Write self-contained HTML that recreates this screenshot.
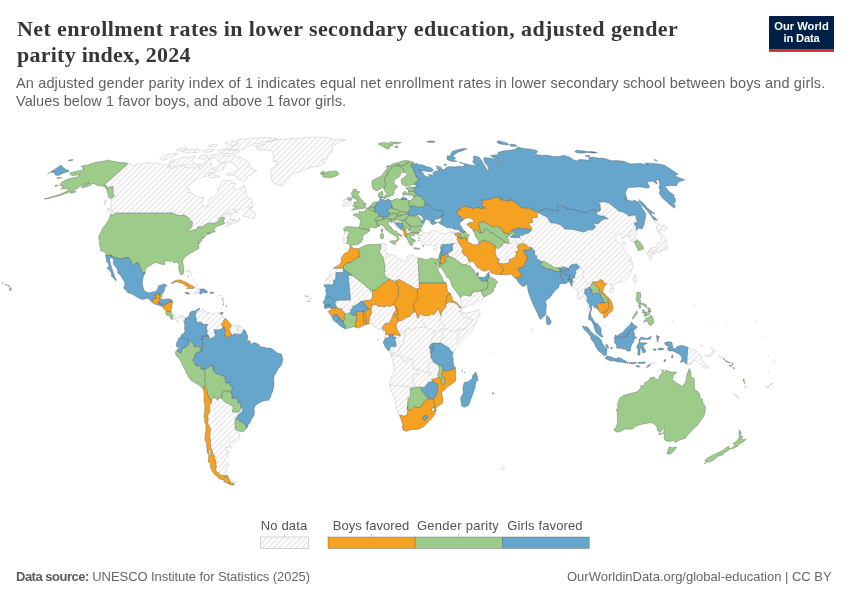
<!DOCTYPE html>
<html><head><meta charset="utf-8">
<style>
html,body{margin:0;padding:0;background:#fff;}
body{width:850px;height:600px;position:relative;overflow:hidden;font-family:"Liberation Sans",sans-serif;}
.t{position:absolute;white-space:nowrap;line-height:1;will-change:transform;}
#title1,#title2{font-family:"Liberation Serif",serif;font-weight:bold;font-size:22px;color:#363636;left:16.5px;}
#title1{top:17.8px;letter-spacing:0.41px;}
#title2{top:43.8px;letter-spacing:0.25px;}
#sub1,#sub2{font-size:14.5px;color:#616161;left:16px;}
#sub1{top:75.8px;letter-spacing:0.138px;}
#sub2{top:94px;letter-spacing:0.06px;}
.foot{font-size:13px;color:#666;top:569.9px;}
.foot b{color:#5b5b5b;letter-spacing:-0.5px;}
#src{left:16.3px;letter-spacing:-0.07px;}
#url{right:18.5px;letter-spacing:0px;}
.leg{font-size:13px;color:#525252;top:519.2px;transform:translateX(-50%);}
#lnd{left:284.4px;letter-spacing:0.15px;}
#lbf{left:371.4px;letter-spacing:0.04px;}
#lgp{left:458px;letter-spacing:0.26px;}
#lgf{left:545.2px;letter-spacing:0.13px;}
#logo{position:absolute;left:769px;top:16px;width:65px;height:36px;will-change:transform;}
#logo div{position:absolute;left:0;width:65px;text-align:center;color:#fff;font-weight:bold;font-size:11.2px;line-height:1;white-space:nowrap;}
#lg1{top:5.3px;}
#lg2{top:17.1px;letter-spacing:-0.2px;}
svg{position:absolute;left:0;top:0;}
</style></head><body>
<div class="t" id="title1">Net enrollment rates in lower secondary education, adjusted gender</div>
<div class="t" id="title2">parity index, 2024</div>
<div class="t" id="sub1">An adjusted gender parity index of 1 indicates equal net enrollment rates in lower secondary school between boys and girls.</div>
<div class="t" id="sub2">Values below 1 favor boys, and above 1 favor girls.</div>
<svg width="850" height="600" viewBox="0 0 850 600">
<defs><pattern id="h" patternUnits="userSpaceOnUse" width="4" height="4" patternTransform="rotate(-45 2 2) translate(0 2)"><path d="M-1,2 l6,0" stroke="#ccc" stroke-width="0.7"/></pattern></defs>
<g fill="url(#h)" stroke="#c4c4c4" stroke-width="0.5" stroke-linejoin="round">
<path d="M128.2,163.7 131.1,164.0 133.7,165.3 137.5,164.2 141.1,164.0 145.5,163.1 149.0,162.9 152.3,162.3 153.4,164.2 156.5,162.9 160.2,163.4 162.6,164.2 166.7,165.1 169.8,165.3 170.2,166.7 166.7,167.6 170.6,168.0 176.1,167.6 178.4,168.7 180.9,166.0 184.7,165.6 185.6,167.3 189.5,167.8 192.9,167.8 195.4,167.8 197.8,166.0 199.5,166.9 199.6,168.9 205.2,165.1 203.3,163.4 209.9,158.8 210.6,160.8 210.0,163.4 212.0,164.0 211.1,166.2 211.9,168.5 215.8,166.7 219.1,164.5 220.8,163.4 225.6,163.6 226.8,164.7 225.4,166.2 222.8,167.6 223.9,168.9 218.5,171.2 215.9,171.2 215.0,168.9 213.1,169.1 213.2,171.4 210.0,173.4 207.4,173.4 209.6,175.3 207.2,176.2 203.5,176.4 201.1,178.1 197.0,179.2 192.2,182.3 188.7,185.4 186.4,188.7 189.4,189.0 188.0,192.6 191.4,192.6 194.4,194.6 196.5,195.8 199.5,197.3 204.2,197.5 201.9,203.0 203.0,205.5 206.4,206.7 207.9,203.5 209.7,200.0 209.0,198.7 214.3,196.5 217.7,193.6 218.6,190.2 216.6,188.7 220.1,185.8 221.2,182.3 222.5,180.2 229.5,180.4 232.2,182.0 232.4,183.5 236.0,183.5 233.3,187.0 233.4,188.7 235.8,189.5 237.4,189.9 241.8,186.6 244.4,185.1 245.5,188.7 246.0,191.9 245.7,194.8 247.6,197.3 250.9,198.5 251.9,201.2 253.3,204.0 252.6,206.5 249.9,207.0 246.2,207.7 242.9,209.8 239.0,209.7 235.0,209.7 229.9,210.0 227.1,212.3 223.1,214.8 218.9,218.1 217.3,218.6 220.4,216.8 224.3,214.3 228.9,212.8 232.9,212.8 232.8,214.3 229.9,215.6 230.7,217.6 230.3,219.9 233.2,221.2 236.2,221.4 237.0,222.4 231.2,224.2 226.2,227.1 225.0,226.3 226.0,224.5 229.7,222.4 226.6,222.7 224.2,223.0 223.7,222.4 223.3,221.4 224.5,217.9 223.9,217.2 222.3,217.6 221.9,217.0 219.6,218.9 218.8,219.9 218.3,220.9 216.8,222.2 215.5,222.6 215.0,223.2 208.4,223.2 207.0,223.7 204.3,225.3 202.7,226.8 198.8,226.8 197.6,227.2 197.7,227.7 197.4,228.9 192.0,230.4 189.0,231.7 188.0,230.9 188.8,229.9 190.5,228.4 191.7,226.8 192.6,222.4 191.1,221.2 190.6,220.4 189.8,219.4 189.4,218.4 183.9,214.8 181.1,215.6 177.3,215.3 174.9,214.0 171.8,213.8 171.6,212.0 171.1,213.0 114.4,213.0 115.0,213.0 113.0,210.5 110.1,208.5 111.3,204.7 111.3,201.7 111.0,199.7 110.8,198.6 113.1,197.3 114.6,195.3 112.7,193.6 112.9,192.1 113.4,189.7 112.7,187.5 112.8,186.3 110.2,187.0 107.1,188.4 106.7,185.6 103.9,185.1ZM113.4,214.5 110.8,214.2 109.4,212.3 107.2,210.2 107.3,208.5 109.7,209.0 112.0,210.5 113.3,212.5ZM104.6,205.0 104.1,203.0 104.8,200.2 107.1,200.5 105.3,202.5ZM242.3,216.3 244.5,214.3 248.1,209.2 251.3,206.7 252.9,206.7 249.9,210.0 251.6,210.7 254.9,212.0 255.7,214.3 255.0,216.8 255.2,218.1 253.3,219.0 251.5,218.1 248.8,218.4 247.9,216.6ZM236.4,221.7 239.7,218.1 240.0,220.7 237.6,221.7ZM231.3,218.9 233.7,219.6 235.8,219.5 234.4,220.7 231.9,220.1ZM233.7,211.0 237.4,211.5 238.4,212.8 235.1,212.3ZM257.0,170.3 251.6,174.1 247.5,176.9 246.9,179.2 242.7,181.1 239.8,179.7 236.6,177.4 235.0,175.5 232.5,175.3 228.7,175.7 225.9,174.6 227.6,173.2 233.0,173.0 235.8,171.2 238.7,168.5 236.1,166.7 234.2,164.5 231.9,162.9 232.0,161.6 223.8,162.7 217.9,161.8 216.7,160.3 218.3,157.6 222.1,155.1 227.1,154.8 227.4,156.3 233.2,155.1 234.9,155.9 238.0,156.9 241.1,157.1 241.9,159.3 246.2,160.1 248.2,162.1 249.9,164.7 247.2,166.4 250.9,167.3 254.0,169.4ZM211.0,173.2 214.8,172.7 214.6,175.7 219.0,175.7 220.2,177.1 215.3,177.4 210.4,178.1 208.8,176.4ZM171.4,159.9 175.5,159.9 182.6,157.1 187.1,156.7 187.9,158.2 192.5,156.1 195.3,156.5 191.7,160.8 194.8,162.7 193.5,165.1 189.7,165.6 185.7,164.5 180.7,165.3 172.3,166.2 168.6,164.9 169.2,162.7 174.8,162.1 169.4,161.0ZM159.7,158.8 162.0,160.3 166.0,159.7 172.1,156.5 178.3,154.0 173.6,153.4 166.0,155.1ZM197.9,158.6 200.7,159.0 204.6,159.3 208.0,156.5 206.7,154.6 201.9,155.5ZM208.4,158.6 211.7,158.6 216.8,156.5 219.6,154.4 216.0,154.0 211.7,155.3ZM196.0,165.1 199.4,166.0 202.9,164.9 201.7,163.4 199.0,163.6ZM182.0,151.8 185.1,153.0 191.6,152.8 198.2,152.4 200.7,150.4 198.1,148.8 190.7,149.8 185.7,149.6ZM202.1,151.8 207.6,152.4 212.5,151.4 214.3,149.2 209.9,149.0 205.0,150.0ZM219.4,153.0 225.2,153.4 231.5,153.4 238.1,153.0 239.7,151.2 234.3,150.4 227.5,149.6 223.1,149.4 218.2,150.4ZM224.9,149.2 229.2,149.4 235.1,149.6 240.8,150.0 245.3,148.4 247.2,146.5 252.0,145.3 254.4,143.7 260.7,143.1 269.5,141.4 276.7,139.6 277.7,138.5 270.0,137.9 260.7,137.7 250.4,138.3 242.6,139.1 235.8,140.0 237.7,141.9 238.5,143.7 234.5,145.9 229.8,147.4ZM224.5,142.7 227.7,143.7 231.7,145.7 236.6,144.0 236.6,142.2 232.8,140.7 228.5,141.4ZM176.0,150.0 180.0,151.0 187.0,149.2 185.7,147.4 179.8,148.4ZM207.9,146.5 214.1,146.9 217.7,145.1 213.6,144.4 208.7,145.3Z"/>
<path d="M254.9,146.1 258.7,146.9 255.9,148.4 258.2,150.2 266.7,150.0 272.6,151.4 273.1,154.4 273.9,158.6 273.3,161.4 278.8,161.8 275.9,164.5 276.8,166.2 271.6,168.5 270.1,171.8 271.2,175.3 271.6,178.8 272.9,182.3 275.1,183.9 279.9,185.8 283.2,185.8 285.3,182.3 288.6,178.8 291.5,175.3 296.7,172.7 299.5,172.1 306.4,168.9 313.7,166.9 319.0,166.0 325.5,162.9 321.2,160.3 327.1,159.0 327.7,156.5 330.8,153.4 333.2,149.4 331.7,146.5 336.8,143.7 340.9,141.4 346.1,140.0 335.1,139.4 326.2,137.4 318.2,137.0 308.5,137.4 298.5,138.2 288.3,138.9 279.6,139.4 273.0,140.5 267.3,142.2 265.6,144.0Z"/>
<path d="M172.2,319.5 172.4,316.9 173.2,315.6 175.6,317.5 177.2,317.3 179.3,316.1 181.4,315.6 183.7,316.2 185.1,317.9 185.3,319.9 183.6,321.7 182.6,319.6 183.3,318.6 181.3,317.1 180.2,317.1 178.9,318.6 178.0,319.1 178.8,321.1 176.7,321.7 176.3,320.1 175.0,319.4Z"/>
<path d="M193.7,292.6 197.1,291.9 198.5,292.1 197.6,290.6 196.4,289.2 197.4,288.5 200.2,289.1 200.0,291.7 199.7,293.4 198.1,293.0 195.1,293.4Z"/>
<path d="M187.4,275.0 188.5,275.0 188.6,277.3 187.2,276.5ZM186.3,270.8 188.8,270.7 188.7,271.2 186.2,271.3ZM189.7,270.3 190.7,271.3 190.0,272.9 189.4,271.8ZM196.4,285.4 197.8,284.9 197.7,285.8ZM190.7,273.9 192.1,275.0 191.7,276.0 191.2,275.2ZM193.4,278.9 194.2,280.2 193.9,280.5 193.1,279.4Z"/>
<path d="M222.0,297.8 223.4,297.4 223.3,298.7 222.1,298.9ZM223.1,301.7 224.0,302.0 223.8,302.9 223.2,302.8ZM221.3,308.5 221.7,308.5 221.7,309.2 221.2,309.2ZM222.6,305.6 223.0,305.6 223.0,306.3 222.5,306.3ZM221.8,295.6 222.4,295.6 222.3,296.1 221.8,296.1ZM219.8,295.1 220.5,295.1 220.4,295.9 219.7,295.9Z"/>
<path d="M199.4,309.7 197.9,311.3 198.8,312.0 201.9,310.7 202.5,308.7 203.3,310.5 206.0,311.3 206.3,312.8 210.9,312.8 213.6,314.1 215.3,313.4 218.3,312.6 220.8,312.6 218.7,313.4 219.3,314.4 221.4,314.9 223.2,316.2 223.3,318.0 224.9,318.2 225.4,318.8 223.2,320.9 224.1,322.0 222.1,323.0 221.5,325.0 223.0,326.9 222.3,328.8 218.1,330.1 215.4,329.8 214.0,329.8 214.9,331.1 214.4,332.4 215.3,334.2 216.6,334.8 215.1,335.4 215.0,336.3 212.0,338.5 211.8,338.0 209.9,338.5 208.6,337.3 207.9,334.5 206.5,333.2 207.7,331.6 206.6,329.5 206.7,326.7 207.6,324.3 203.1,324.6 201.5,322.2 197.4,322.2 196.2,321.2 196.4,318.6 195.6,316.7 195.2,314.7 196.6,311.5 197.8,310.2Z"/>
<path d="M231.3,325.0 234.1,325.1 236.2,324.8 238.6,325.5 237.4,327.4 238.4,331.1 237.0,334.4 235.8,333.8 233.8,334.0 233.7,335.7 232.6,335.4 231.0,333.2 230.1,331.8 229.1,330.1 229.4,328.5 230.9,326.7Z"/>
<path d="M238.6,325.5 241.0,326.4 243.0,328.5 243.8,329.7 241.5,334.0 238.8,334.5 237.0,334.4 238.4,331.1 237.4,327.4Z"/>
<path d="M209.9,400.2 211.4,399.9 213.1,397.4 215.7,398.2 217.8,400.2 218.5,397.9 221.1,397.9 221.5,398.6 225.6,402.6 227.9,403.2 230.8,405.2 233.7,407.3 232.1,411.8 234.3,411.9 237.1,412.4 238.6,412.0 240.3,410.1 240.5,407.3 242.7,409.2 242.7,411.4 240.3,413.1 238.6,414.4 235.3,419.3 235.0,422.7 235.0,425.3 235.3,429.0 235.5,430.0 238.7,432.9 238.9,435.0 240.3,435.8 239.3,439.2 236.6,441.5 232.5,442.3 229.9,442.0 230.4,444.9 231.0,447.2 228.0,447.9 225.1,447.2 226.3,450.6 229.5,451.6 227.9,452.5 227.3,453.9 227.7,457.3 225.5,458.3 224.1,460.3 226.4,462.6 228.7,463.7 228.9,465.4 226.9,468.7 226.3,471.0 225.7,473.0 228.2,476.3 224.7,475.5 220.8,475.5 218.9,473.0 216.6,471.8 215.2,469.3 216.6,466.7 215.7,464.2 216.2,462.1 214.4,457.8 215.1,456.8 213.1,453.9 211.8,450.6 210.6,446.2 210.3,442.3 210.7,439.7 209.3,436.0 210.1,433.2 210.5,429.8 210.0,427.4 209.4,426.4 207.5,422.7 208.2,419.3 207.6,414.9 209.9,411.5 209.8,408.9 209.0,405.2 211.5,403.2 211.9,400.5ZM228.2,477.2 230.6,482.8 234.8,483.0 236.9,482.1 234.1,481.5 231.7,480.5 229.1,478.0Z"/>
<path d="M343.4,206.8 346.4,206.0 350.2,205.0 351.1,203.0 350.9,201.7 351.2,200.3 350.0,200.2 348.3,200.1 347.1,199.2 348.7,197.9 348.6,197.0 346.8,197.6 346.4,199.2 343.4,199.8 343.5,202.0 345.2,202.6 343.8,204.0 342.3,205.2 342.6,206.2Z"/>
<path d="M344.2,231.2 345.6,230.7 348.9,231.1 349.7,232.0 348.2,233.5 348.4,235.3 347.9,236.9 346.8,237.2 347.9,238.7 347.2,240.3 347.8,240.8 346.7,242.5 346.9,243.5 345.8,243.9 343.4,243.9 343.9,241.4 344.0,240.3 342.5,239.4 342.8,237.8 343.9,235.6 344.5,233.1Z"/>
<path d="M390.8,222.1 390.7,223.2 391.6,223.7 392.3,222.4 393.6,223.2 394.4,225.3 397.0,227.1 399.4,228.4 401.5,229.8 401.7,229.3 401.2,229.4 399.7,228.6 398.7,227.3 396.7,225.5 395.4,223.7 395.4,222.7 397.7,222.6 400.0,223.0 402.1,223.5 402.8,223.5 402.2,222.4 401.9,221.9 401.5,220.9 399.6,221.2 397.7,220.1 396.8,219.5 396.3,219.2 394.9,220.1 395.1,221.0 394.3,221.9 392.9,221.5Z"/>
<path d="M406.1,232.6 406.1,231.3 406.1,230.9 407.1,230.4 408.2,230.3 409.7,230.2 411.2,231.7 411.2,232.6 409.3,233.1 407.2,233.9 406.3,233.3Z"/>
<path d="M404.8,229.5 405.4,228.8 406.2,227.7 407.6,228.4 408.4,229.1 408.2,230.3 407.1,230.4 406.1,230.9 405.3,230.0Z"/>
<path d="M416.7,214.9 418.6,214.4 420.3,215.2 422.0,215.7 422.1,217.0 423.3,218.4 424.5,219.6 422.3,220.1 422.2,220.5 420.9,222.0 420.6,219.6 420.2,218.4 418.1,216.6Z"/>
<path d="M403.2,197.3 403.2,196.3 403.0,195.4 404.7,194.6 408.5,194.8 410.5,195.0 413.7,196.3 414.3,197.3 412.5,198.2 412.2,199.7 410.2,200.7 408.4,200.6 406.9,199.6 406.3,198.1 403.7,197.4Z"/>
<path d="M417.9,234.2 418.9,232.6 418.3,231.7 418.8,231.1 420.2,230.7 421.8,231.0 424.3,233.0 422.0,233.5 420.0,234.6 418.5,236.0ZM418.4,236.2 418.9,235.7 421.1,235.2 424.3,235.0 424.7,233.0 427.2,233.1 429.1,232.8 432.2,230.9 436.4,230.7 439.8,232.8 443.1,233.5 446.7,233.5 450.4,232.2 452.6,232.1 454.6,233.3 455.6,235.7 456.3,236.1 458.2,236.9 457.4,237.7 456.9,238.7 457.7,240.3 459.3,243.4 456.5,243.3 454.0,243.7 451.1,243.7 449.1,244.4 445.8,244.3 442.7,244.8 442.1,246.0 441.4,244.8 441.1,247.0 440.6,246.8 441.0,245.0 439.7,245.0 437.4,244.4 435.7,246.1 433.8,246.4 431.9,245.2 429.0,244.3 428.5,245.9 425.6,244.8 423.7,244.7 421.9,243.9 421.2,242.1 419.2,240.5 420.4,240.1 419.7,237.9 418.4,237.4Z"/>
<path d="M333.4,268.3 330.6,271.8 328.9,276.5 326.8,278.6 324.7,283.3 324.2,286.2 324.4,284.8 333.4,284.8 333.5,280.5 335.8,279.3 335.9,272.6 343.4,272.6 343.5,268.3Z"/>
<path d="M334.9,302.0 335.9,301.3 337.9,300.3 341.4,300.2 350.3,300.0 350.3,297.4 348.2,275.2 352.0,275.2 365.4,285.4 366.9,287.5 370.1,288.8 370.3,290.9 372.4,290.5 372.5,296.4 372.4,297.7 370.8,300.3 365.8,300.6 363.4,301.5 361.2,301.1 358.2,303.4 356.2,304.7 355.3,305.8 353.0,306.0 352.7,307.9 350.7,309.7 350.2,313.2 348.6,312.8 347.7,313.4 344.6,313.9 343.8,311.8 342.8,311.8 341.5,308.7 339.2,308.7 336.8,308.1 336.7,306.6 335.8,305.5 335.3,303.2Z"/>
<path d="M381.3,244.1 383.9,243.0 385.0,244.2 386.7,243.8 385.5,245.5 385.8,247.0 386.9,248.6 386.2,249.9 384.8,251.2 384.9,252.0 387.1,253.3 388.1,254.0 390.6,254.9 391.7,254.6 396.0,255.9 397.4,258.5 399.4,259.1 401.4,259.8 405.0,261.4 407.0,259.6 407.0,256.7 410.1,254.6 412.4,254.9 413.5,255.4 415.6,257.0 418.2,257.9 417.8,262.2 418.3,264.3 419.2,283.1 419.4,288.3 417.2,288.3 417.2,289.6 398.8,279.3 396.6,280.5 394.8,281.5 389.7,279.2 385.3,276.5 383.8,272.1 385.1,271.6 384.7,267.4 384.8,264.8 383.8,261.5 382.7,256.7 379.2,252.0 380.8,248.6 380.7,245.5Z"/>
<path d="M369.0,323.9 370.6,323.8 373.2,324.1 374.3,325.9 375.5,328.2 376.9,329.3 378.9,329.0 382.4,328.5 383.3,325.9 385.3,323.5 388.3,323.3 389.9,322.0 392.0,318.0 393.3,314.4 394.4,311.8 396.3,310.5 395.3,308.1 395.1,306.4 393.9,304.7 390.3,306.3 385.7,305.8 384.8,307.1 382.5,306.4 378.6,306.6 375.4,304.2 372.2,305.3 371.2,307.9 371.1,310.0 371.5,312.8 369.9,316.7 369.1,320.1Z"/>
<path d="M385.4,334.4 388.9,334.8 389.0,337.9 385.4,337.9 384.4,337.5ZM382.2,330.8 383.4,330.8 382.9,332.1Z"/>
<path d="M461.5,307.3 462.0,309.3 460.7,310.3 461.9,310.6 463.8,313.2 466.1,313.2 469.5,312.3 472.9,311.4 476.3,310.6 479.9,309.6 480.1,313.4 479.5,316.0 477.3,320.1 475.3,324.8 472.9,329.3 468.8,334.2 467.4,335.1 464.3,337.9 460.8,341.5 458.6,344.8 457.3,346.0 455.5,347.5 455.2,349.1 454.1,351.1 453.1,352.7 448.0,353.6 441.1,356.2 440.0,365.6 440.8,369.2 440.5,377.0 431.2,382.3 424.1,390.1 412.6,392.7 411.0,405.8 408.4,413.6 405.0,416.1 401.9,415.6 399.4,415.2 396.7,410.1 395.4,404.5 395.5,400.3 393.1,395.1 390.5,389.6 389.5,385.5 390.5,380.2 391.4,375.7 393.7,372.9 394.5,368.4 393.1,363.5 392.7,360.1 391.2,356.2 390.9,355.5 390.4,353.6 390.0,352.5 388.4,350.8 392.8,344.4 391.6,336.6 391.6,332.7 393.9,327.4 395.0,322.2 398.4,317.0 404.1,314.4 410.9,310.5 415.5,309.2 420.1,310.5 431.6,310.5 438.3,306.6 444.0,306.6 446.3,303.3 447.3,303.2 449.3,301.7 451.9,302.3 454.2,302.6 456.0,303.6 458.4,305.8 459.9,308.0Z"/>
<path d="M431.7,409.4 432.5,407.7 434.3,408.0 434.6,409.2 434.5,410.5 432.6,411.8 431.8,410.6Z"/>
<path d="M324.6,308.3 326.1,309.7 328.4,311.9 329.6,310.5 331.4,310.0 331.4,307.5 326.8,308.0Z"/>
<path d="M531.3,230.4 531.6,227.8 529.8,225.3 528.0,223.5 529.7,223.0 531.8,222.4 533.1,222.7 532.3,221.7 532.0,217.6 537.3,217.6 536.8,214.5 538.6,212.8 539.5,212.6 540.6,214.0 545.1,215.9 548.4,218.2 548.8,219.9 550.6,222.7 556.1,223.3 560.9,225.1 564.7,229.0 572.3,229.3 577.1,230.4 584.1,232.0 588.3,229.8 592.1,229.8 593.9,228.9 595.9,226.6 593.9,224.9 594.0,223.1 597.9,223.9 599.9,222.2 601.9,219.9 603.4,219.6 604.3,219.1 607.9,218.7 603.2,215.7 601.6,216.3 597.2,214.8 596.8,213.5 596.6,210.9 599.4,211.7 599.6,211.5 600.5,209.7 600.2,206.2 599.9,204.1 598.2,203.7 599.1,202.2 603.5,201.7 608.3,202.8 610.4,204.2 617.4,209.7 618.5,211.0 623.0,212.0 626.7,214.0 629.0,216.3 632.4,215.3 635.5,214.7 636.0,217.6 637.0,220.7 637.7,223.0 634.9,222.4 634.1,223.7 636.4,227.1 636.2,228.8 637.1,230.2 636.4,232.5 637.2,233.9 635.5,236.1 634.1,236.8 634.6,238.2 637.4,239.7 634.9,241.8 632.6,241.6 630.2,241.1 630.8,239.5 629.2,237.2 627.3,236.4 625.0,236.9 622.7,238.7 621.9,238.7 621.8,235.1 619.2,233.8 617.1,236.4 614.6,238.2 614.9,240.3 618.4,242.4 620.7,243.7 622.0,241.8 626.4,242.9 626.7,244.2 623.8,245.7 622.0,248.9 625.1,251.0 628.0,255.1 631.1,257.7 631.9,259.8 628.6,261.4 632.7,262.4 633.4,266.6 631.9,269.2 630.8,272.9 629.1,276.3 626.7,278.9 624.2,280.7 620.5,281.8 618.9,282.5 615.7,283.6 612.5,285.2 612.5,287.5 610.9,285.9 610.3,284.1 607.8,283.9 606.9,284.2 604.3,283.3 603.0,280.7 600.0,279.5 599.0,281.0 597.2,281.8 594.8,281.8 593.2,282.0 592.7,285.3 591.2,284.1 589.4,287.4 590.5,287.9 589.4,287.4 588.0,287.4 586.9,288.9 584.9,289.1 584.9,292.2 584.0,292.2 587.4,297.4 586.9,300.8 589.5,304.7 589.9,307.6 591.0,309.7 589.4,313.5 589.0,314.4 589.2,312.0 588.5,309.2 588.4,306.6 587.3,304.0 586.1,301.3 585.2,297.7 583.2,296.1 580.6,299.3 577.8,298.7 577.5,294.8 577.4,291.4 575.1,289.1 573.1,287.8 571.8,286.5 572.1,284.9 571.8,283.1 573.0,282.3 572.5,280.5 572.7,277.8 574.5,278.2 575.1,274.2 575.8,272.6 575.4,271.1 577.4,269.2 579.1,268.1 579.4,266.8 576.4,263.7 574.6,264.7 572.8,264.0 570.2,265.8 568.2,268.8 567.0,268.0 563.0,266.6 560.5,267.3 559.1,267.7 554.4,267.7 549.6,265.1 544.4,261.4 542.1,261.7 539.8,260.6 536.3,258.3 536.9,255.7 534.8,255.4 534.5,250.7 531.6,247.8 527.9,246.9 526.5,244.7 523.3,243.8 519.4,244.4 516.9,246.3 518.4,248.3 517.8,251.6 515.4,251.7 516.6,253.4 515.2,257.2 512.2,258.7 509.3,259.7 509.6,262.6 505.0,263.7 501.4,263.7 497.6,262.5 499.2,260.0 498.8,258.5 496.8,258.3 495.1,252.7 495.6,247.6 498.1,248.6 499.7,246.9 502.3,245.7 502.8,243.4 504.1,242.6 506.0,243.0 508.8,243.4 508.8,241.6 509.1,240.5 507.6,238.7 506.5,237.9 507.7,237.4 508.5,235.7 509.9,235.6 509.9,234.0 511.6,233.5 512.1,235.0 512.7,235.6 512.6,236.1 510.2,236.4 510.8,237.3 513.4,237.4 516.3,237.8 519.7,237.5 519.8,236.6 521.4,235.0 523.4,235.1 525.4,233.7 528.5,233.3ZM609.3,290.1 610.8,288.3 614.0,288.3 614.4,289.3 612.6,292.5 610.4,292.5ZM633.0,278.9 634.3,275.2 635.5,274.6 636.5,276.3 636.2,280.2 635.6,283.2 634.0,281.5Z"/>
<path d="M648.5,251.7 649.9,248.9 651.9,247.7 656.2,247.6 657.2,246.0 657.2,243.0 658.1,242.6 658.4,244.2 660.8,242.9 661.8,241.1 660.8,236.9 659.2,234.6 659.1,233.0 661.1,232.5 662.9,235.1 665.2,237.2 666.0,240.5 665.3,241.3 666.6,244.2 666.9,246.0 668.0,247.3 666.9,248.6 666.8,249.3 665.9,247.8 664.9,248.6 665.0,250.0 663.7,250.2 661.1,250.2 660.4,249.1 660.0,250.2 661.2,251.0 660.4,252.0 659.7,253.2 657.8,252.0 657.2,250.2 654.5,249.9 651.7,251.0 651.1,252.1ZM646.7,253.6 647.7,252.0 649.1,252.0 651.5,253.7 652.1,258.5 651.2,259.6 649.8,258.8 648.7,255.4 647.2,254.9ZM652.3,253.0 653.1,251.7 655.3,250.8 657.0,252.1 656.5,253.6 654.4,253.3 654.3,255.0ZM658.0,232.2 655.9,227.6 658.0,227.6 655.3,222.7 655.4,221.9 659.8,224.8 662.8,225.8 664.4,225.0 667.2,227.6 666.2,228.4 664.4,230.9 663.9,230.9 660.2,229.4 658.8,230.2 659.6,231.7Z"/>
<path d="M446.3,227.3 449.9,229.9 450.3,230.6 450.4,232.2 452.6,232.1 454.6,233.3 457.8,232.9 461.1,233.4 460.9,231.5 460.4,231.2 458.4,229.7 456.0,229.1 454.6,229.4 451.6,227.8 449.5,227.8Z"/>
<path d="M454.0,243.7 456.5,243.3 459.3,243.4 459.9,244.4 461.1,246.5 463.1,248.9 462.1,250.2 461.9,251.9 463.8,254.5 468.1,257.5 468.1,259.6 468.9,261.0 470.3,262.3 469.0,262.2 468.4,261.9 466.1,264.5 462.0,264.3 455.7,259.3 451.7,257.1 449.0,256.6 447.7,253.3 452.1,250.7 452.4,249.7 452.6,247.6 452.1,245.5Z"/>
<path d="M466.1,264.5 468.4,261.9 469.0,262.2 469.5,264.0 470.4,266.0 468.9,266.1Z"/>
<path d="M460.3,297.7 460.2,299.5 461.0,302.6 461.9,305.8 462.4,307.5 465.8,307.1 469.2,305.5 473.7,304.0 476.9,301.3 481.9,299.8 483.7,297.0 480.8,290.9 474.3,291.9 472.3,293.0 470.9,295.9 469.8,296.3 468.4,295.6 465.6,295.1 462.9,295.1 460.9,295.1 461.2,296.9Z"/>
<path d="M433.0,249.0 434.4,248.2 437.7,247.4 436.5,248.9 436.7,249.3 434.7,250.2 433.3,249.8Z"/>
<path d="M649.8,364.0 652.1,362.7 655.4,362.4 654.6,363.3 650.1,365.2Z"/>
<path d="M687.8,347.3 691.2,348.9 695.7,350.4 698.6,353.3 701.2,355.9 702.8,358.0 701.3,359.8 703.7,361.9 706.1,365.6 708.9,367.4 706.9,368.4 702.5,366.9 699.4,363.7 696.2,360.9 693.9,360.6 692.2,362.2 691.3,364.3 686.7,364.3ZM704.2,355.1 707.0,354.9 710.0,354.9 712.3,351.5 713.6,351.7 712.8,354.6 710.3,356.7 706.8,356.9ZM710.4,347.3 713.8,349.4 715.2,352.0 714.4,350.9 712.0,348.3ZM719.0,354.9 721.5,357.5 720.3,358.3 719.1,356.2ZM700.8,345.7 702.6,345.7 702.4,346.2 700.8,346.2Z"/>
<path d="M734.2,393.0 737.0,395.3 739.6,398.5 738.1,398.7 735.6,396.4 733.8,393.5Z"/>
<path d="M766.2,385.9 768.8,386.2 768.7,387.8 765.9,388.0ZM769.8,383.8 773.0,382.8 772.2,384.4 769.8,384.9Z"/>
<path d="M501.5,467.2 504.8,468.2 503.6,469.8 501.3,469.5Z"/>
<path d="M531.6,328.8 532.3,328.8 532.4,330.3 531.7,330.3ZM490.3,352.4 490.9,352.4 490.8,353.0 490.3,353.0ZM726.5,322.2 727.1,322.2 727.1,322.7 726.5,322.7ZM711.6,320.9 712.2,320.9 712.3,321.4 711.7,321.4ZM768.4,355.0 769.0,355.0 769.0,355.6 768.4,355.6ZM773.5,359.8 774.1,359.8 774.0,360.5 773.5,360.5ZM774.4,362.4 775.0,362.4 774.9,363.1 774.3,363.1ZM768.1,372.9 768.7,372.9 768.6,373.5 768.0,373.5ZM671.8,320.7 672.4,320.7 672.5,321.4 671.9,321.4ZM761.5,336.6 761.9,336.6 761.9,337.1 761.5,337.1ZM756.1,321.7 756.8,321.7 756.8,322.2 756.2,322.2ZM693.6,305.0 694.3,305.0 694.4,305.9 693.7,305.9Z"/>
</g>
<g fill="none" stroke="#c4c4c4" stroke-width="0.5" stroke-linejoin="round">
<path d="M388.1,254.0 388.1,255.9 385.5,257.7 385.3,260.1 383.8,261.5"/>
<path d="M400.1,334.8 401.1,331.4 405.7,331.4 405.5,329.3 407.7,327.2 410.3,329.0 414.4,329.8 415.5,328.0 419.0,327.2 421.1,327.4 425.9,327.2 423.5,323.3 420.7,320.1 418.4,317.8M425.9,327.2 428.2,329.3 431.0,328.8 433.9,331.4 436.3,331.1 438.8,330.3 441.0,329.5 445.6,328.5 445.2,326.7 443.4,326.1 442.6,323.0 438.7,319.9 440.7,318.6 441.1,315.7 441.1,314.4M445.6,328.5 447.6,328.9 450.6,331.1 453.8,331.6 456.8,329.4 459.3,330.2 457.3,333.2 457.3,342.7 458.6,344.8M459.3,330.2 461.9,329.0 466.3,327.7 473.0,319.6 463.9,317.0 461.5,314.4 461.3,311.8 458.7,311.8 458.5,310.5 459.9,308.0M461.3,311.8 461.9,310.6M441.0,329.5 442.2,330.8 443.4,336.3 442.4,337.6 441.4,339.5 441.0,343.1M433.9,331.4 433.8,334.2 435.0,334.9 433.1,337.4 431.9,338.4 431.1,342.1 431.1,344.0M433.6,362.2 429.2,362.7 428.5,364.8 428.4,368.4 427.8,371.8 429.2,372.9 431.1,372.2 431.0,375.6 429.1,375.5 426.9,372.9 424.7,371.8 422.2,371.2 420.8,369.7 418.7,370.4 417.8,368.9 413.9,369.7 413.8,366.3 412.9,365.3 413.1,359.6 409.9,359.6 409.5,358.5 407.7,358.8 407.4,361.4 403.3,361.6 401.0,355.8 393.2,355.8 391.2,356.2M390.9,355.5 393.0,352.5 396.0,353.3 398.0,351.7 400.1,346.2 403.6,342.1 404.3,337.9 405.7,331.4M390.4,353.6 392.5,352.2 393.0,352.5M417.8,368.9 417.7,374.4 413.1,374.4 412.9,382.8 415.8,386.4 420.2,387.0M389.5,385.5 392.4,384.9 394.6,385.9 404.7,385.9 408.3,387.2 415.8,386.4"/>
<path d="M508.8,243.4 512.5,243.7 513.5,241.6 514.6,240.3 516.0,241.3 517.3,244.7 519.9,243.1 524.1,243.3M523.3,243.8 524.1,243.3 523.0,240.3 520.7,239.8 519.7,237.5M579.4,266.8 582.0,268.7 583.8,272.9 582.1,276.8 585.5,279.9 586.9,282.8 589.1,284.4 591.4,284.9M627.3,236.4 629.3,233.8 630.0,231.5 632.2,230.9 634.9,229.8 635.3,228.6 637.1,230.2"/>
</g>
<g stroke="#444" stroke-width="0.32" stroke-linejoin="round">
<path fill="#9dcc8a" d="M110.5,214.5 113.6,215.0 115.4,213.0 171.1,213.0 171.6,212.0 171.8,213.8 174.9,214.0 177.3,215.3 181.1,215.6 183.9,214.8 189.4,218.4 189.8,219.4 190.6,220.4 191.1,221.2 192.6,222.4 191.7,226.8 190.5,228.4 188.8,229.9 188.0,230.9 189.0,231.7 192.0,230.4 197.4,228.9 197.7,227.7 197.6,227.2 198.8,226.8 202.7,226.8 204.3,225.3 207.0,223.7 208.4,223.2 215.0,223.2 215.5,222.6 216.8,222.2 218.3,220.9 218.8,219.9 219.6,218.9 221.9,217.0 222.3,217.6 223.9,217.2 224.5,217.9 223.3,221.4 223.7,222.4 224.3,222.8 224.3,223.7 221.8,224.8 219.4,225.5 217.1,226.3 215.2,228.1 214.6,228.9 213.9,230.2 214.4,231.5 215.4,231.5 215.4,231.8 213.9,232.2 212.7,232.2 211.0,232.8 208.9,232.9 207.2,233.5 210.2,233.3 210.5,233.8 206.2,234.6 205.9,235.1 204.8,237.2 202.8,238.8 201.9,237.4 202.0,240.3 199.3,243.7 198.3,243.9 199.2,240.3 197.9,240.8 198.3,244.1 198.9,246.8 198.8,248.5 196.3,249.9 192.7,252.0 190.0,253.3 187.3,255.4 184.9,257.0 183.5,259.1 182.8,261.1 182.8,263.2 183.5,266.4 183.9,270.3 183.4,273.1 182.5,274.7 180.9,275.0 179.9,272.9 179.6,270.8 178.4,268.4 178.8,266.4 179.0,264.5 177.7,262.4 176.5,261.9 173.8,263.0 173.0,261.7 171.6,261.1 169.3,261.4 168.4,260.4 166.2,261.1 164.6,261.7 164.6,263.5 164.8,264.7 162.6,264.5 160.5,264.0 158.9,263.2 156.4,262.7 154.5,263.0 152.5,264.0 150.3,265.6 148.1,266.6 146.1,268.4 145.2,270.5 145.3,272.8 144.5,272.9 142.8,272.4 141.2,271.6 140.9,268.7 139.6,266.6 139.1,264.3 138.2,262.8 136.0,262.7 133.9,264.8 132.1,264.0 131.2,263.1 131.0,260.7 128.4,257.6 124.7,257.5 124.3,258.7 118.0,258.7 110.8,255.7 111.2,255.1 105.7,255.6 105.9,254.1 104.9,252.5 104.2,251.7 102.8,251.3 100.3,250.6 100.7,248.7 99.6,245.0 99.2,243.4 99.7,241.8 99.2,240.5 98.8,237.9 99.1,235.1 100.4,233.5 101.6,230.9 102.2,228.8 104.8,225.8 108.5,220.1 109.2,218.9ZM128.2,163.7 125.3,162.7 121.4,162.5 117.9,162.1 114.9,161.8 112.7,161.1 109.9,160.8 107.6,160.0 103.5,161.2 99.3,161.8 95.0,162.5 91.4,163.8 86.9,165.2 83.7,165.4 81.1,166.6 83.0,167.3 82.4,169.4 84.2,169.6 83.6,170.9 80.9,170.5 79.4,170.6 70.2,172.7 70.2,174.8 72.1,175.4 75.7,175.3 80.2,174.6 78.4,176.0 77.0,177.4 74.5,177.6 68.6,178.8 63.8,181.1 61.5,182.3 60.0,184.7 60.5,186.1 63.4,186.0 61.6,188.2 60.9,189.2 64.8,188.7 67.5,188.9 69.6,189.0 66.2,191.6 62.5,193.3 56.3,195.5 52.4,196.5 48.6,197.7 44.2,199.0 48.2,198.7 52.3,197.5 56.3,196.5 60.2,195.5 65.1,193.6 69.8,191.9 74.3,189.9 77.8,188.2 78.6,187.0 82.5,185.4 86.2,183.7 89.7,183.0 88.0,183.7 83.4,185.8 81.1,187.8 85.3,187.0 89.3,185.8 92.3,183.9 95.1,183.9 96.5,185.1 98.5,185.8 102.0,186.1 104.2,186.6 105.6,188.0 106.8,189.9 107.6,192.4 108.0,194.8 108.7,197.3 110.3,198.2 110.8,198.6 113.1,197.3 114.6,195.3 112.7,193.6 112.9,192.1 113.4,189.7 112.7,187.5 112.8,186.3 110.2,187.0 107.1,188.4 106.7,185.6 103.9,185.1ZM71.9,191.6 75.5,190.9 76.0,191.9 72.2,193.1 70.0,193.1ZM57.3,177.6 60.6,177.4 61.8,178.1 59.1,178.5 56.7,178.3ZM55.0,185.6 58.0,185.1 57.4,186.1 54.9,186.4ZM9.2,288.9 10.0,287.6 11.2,288.4 11.9,289.6 9.7,291.0ZM8.4,285.9 9.4,285.7 9.9,286.3 8.9,286.7ZM7.2,285.4 8.4,285.3 8.3,285.5 7.2,285.5ZM5.4,284.2 6.1,283.9 6.6,284.9 5.5,284.9ZM2.3,282.8 3.2,282.5 3.2,283.2 2.5,283.3Z"/>
<path fill="#66a6cd" d="M105.7,255.6 111.2,255.1 110.8,255.7 118.0,258.7 124.3,258.7 124.7,257.5 128.4,257.6 131.0,260.7 131.2,263.1 132.1,264.0 133.9,264.8 136.0,262.7 138.2,262.8 139.1,264.3 139.6,266.6 140.9,268.7 141.2,271.6 142.8,272.4 144.5,272.9 145.3,272.8 143.4,276.5 142.3,281.8 142.8,285.7 142.9,286.7 144.2,290.1 145.1,291.4 147.5,292.2 148.3,293.1 151.6,292.3 153.9,291.7 155.6,291.2 157.1,289.9 158.3,286.7 158.6,285.7 161.7,284.9 163.8,284.1 166.3,284.4 166.6,285.4 164.9,287.8 164.6,289.6 163.6,292.5 162.7,292.2 162.3,292.3 160.9,293.8 160.1,294.0 155.9,294.0 155.7,295.5 154.8,295.5 156.2,296.9 156.6,298.5 153.8,298.5 152.4,300.7 152.2,302.5 148.7,298.7 147.0,298.2 143.8,299.5 140.5,298.9 137.3,297.2 135.2,296.1 131.6,293.8 127.7,292.7 126.2,290.6 123.8,288.3 123.6,287.2 124.7,285.7 124.7,281.8 123.0,279.7 120.5,275.2 117.8,273.1 117.6,270.0 116.4,267.7 113.7,264.8 113.2,261.7 113.4,259.1 111.8,258.0 110.2,257.5 109.7,259.6 110.3,262.7 111.6,267.4 112.6,270.5 113.5,273.1 114.5,275.8 114.9,277.3 116.3,279.9 115.2,280.7 114.6,279.2 111.3,276.0 111.5,273.1 109.5,270.5 106.8,267.9 108.8,267.1 108.6,264.0 106.8,261.7 106.2,259.6 106.0,257.5Z"/>
<path fill="#f5a223" d="M152.2,302.5 152.4,300.7 153.8,298.5 156.6,298.5 156.2,296.9 154.8,295.5 155.7,295.5 155.9,294.0 160.1,294.0 159.4,299.0 160.1,299.0 160.7,299.5 161.5,299.5 159.1,301.6 158.7,302.9 156.8,304.6 154.3,304.1Z"/>
<path fill="#9dcc8a" d="M160.1,294.0 160.9,293.8 162.3,292.3 162.6,293.2 161.9,295.3 162.0,296.4 160.1,299.0 159.4,299.0Z"/>
<path fill="#66a6cd" d="M158.7,302.9 159.1,301.6 161.5,299.5 162.4,299.1 164.6,299.4 166.7,299.0 169.0,298.8 170.6,299.3 172.5,300.7 173.0,301.3 171.0,302.0 169.2,301.9 166.9,304.2 164.6,304.6 164.3,305.8 163.0,306.6 162.6,305.8 162.0,305.5 162.2,304.3 160.5,304.1 159.4,303.2Z"/>
<path fill="#66a6cd" d="M156.8,304.6 158.7,302.9 159.4,303.2 160.5,304.1 162.2,304.3 162.0,305.5 161.7,306.2 160.3,306.0 158.6,305.3Z"/>
<path fill="#f5a223" d="M163.0,306.6 164.3,305.8 164.6,304.6 166.9,304.2 169.2,301.9 171.0,302.0 173.0,301.3 172.2,304.0 171.6,308.1 171.1,310.2 171.0,312.0 168.6,311.7 166.3,311.6 164.6,309.8 162.9,307.6 162.1,306.8Z"/>
<path fill="#9dcc8a" d="M166.3,311.6 168.6,311.7 171.0,312.0 172.3,314.4 173.2,315.6 172.4,316.9 172.2,319.5 170.7,318.4 170.5,317.0 168.5,315.4 167.4,315.4 165.9,314.4 166.0,312.0Z"/>
<path fill="#f5a223" d="M171.0,283.5 173.5,281.2 175.8,280.5 178.2,279.9 181.5,280.2 183.6,281.5 186.9,282.3 188.9,284.1 191.7,285.4 194.9,287.6 192.9,288.5 189.5,288.4 186.8,288.7 188.1,286.7 185.3,285.7 183.3,283.9 181.1,282.9 178.3,282.5 177.5,281.4 174.4,282.5 173.2,283.3Z"/>
<path fill="#66a6cd" d="M184.8,292.6 186.8,292.2 189.4,293.1 189.6,293.8 187.3,294.3 185.1,293.0Z"/>
<path fill="#66a6cd" d="M200.2,289.1 203.1,288.8 204.4,289.2 205.9,290.1 207.6,291.8 206.7,293.0 204.0,292.5 202.2,292.7 200.4,294.6 199.7,293.4 200.0,291.7Z"/>
<path fill="#66a6cd" d="M210.1,292.2 213.7,292.3 213.7,293.2 210.1,293.6Z"/>
<path fill="#66a6cd" d="M220.8,312.6 223.1,312.2 222.8,314.1 220.7,314.3Z"/>
<path fill="#f5a223" d="M222.5,299.6 223.1,299.8 223.0,300.8 222.7,300.8Z"/>
<path fill="#66a6cd" d="M223.2,303.7 223.7,303.7 223.7,304.7 223.1,304.6Z"/>
<path fill="#f5a223" d="M226.3,305.7 226.9,305.7 226.8,306.5 226.2,306.5Z"/>
<path fill="#66a6cd" d="M243.8,329.7 245.1,330.3 247.5,335.8 247.7,337.9 246.6,340.2 249.8,340.9 251.0,344.2 254.4,342.5 259.0,344.4 260.7,347.0 263.7,347.0 267.1,348.1 270.6,347.9 274.1,350.2 277.1,353.0 281.5,354.1 282.4,357.2 282.8,359.3 282.6,361.6 281.1,365.6 277.9,369.2 275.8,373.4 274.7,374.4 273.7,378.4 274.0,383.6 273.7,387.0 272.8,391.4 271.6,393.5 270.3,397.9 268.2,400.4 265.5,400.5 262.2,401.3 258.7,403.2 255.3,405.8 254.0,408.4 254.5,412.6 254.3,415.2 252.0,418.3 250.0,422.7 248.3,424.6 247.4,427.2 246.1,428.6 246.1,425.9 244.5,424.2 242.5,422.7 239.4,421.0 237.1,419.1 235.3,419.3 238.6,414.4 240.3,413.1 242.7,411.4 242.7,409.2 240.5,407.3 240.8,403.3 239.9,402.8 238.2,403.0 237.5,399.6 236.8,398.7 235.3,398.2 232.0,398.2 231.9,394.7 231.1,393.1 231.6,390.2 232.2,388.0 231.5,386.3 229.9,385.5 229.8,383.1 225.7,382.9 225.3,379.9 224.5,376.5 221.5,375.7 219.1,374.4 215.3,373.1 213.9,371.7 213.1,370.5 212.8,365.8 209.9,366.3 206.2,369.2 203.3,369.1 200.9,369.2 200.7,365.3 197.1,366.6 196.5,365.3 194.7,365.0 195.2,363.9 192.6,360.1 193.1,358.5 194.5,357.5 194.9,353.8 197.2,352.2 199.4,351.9 201.7,351.5 202.8,343.4 202.3,341.8 201.3,340.9 201.3,339.0 203.3,338.8 201.7,337.7 201.9,336.1 206.2,335.9 207.6,335.3 208.6,337.3 209.9,338.5 211.8,338.0 212.0,338.5 215.0,336.3 215.1,335.4 216.6,334.8 215.3,334.2 214.4,332.4 214.9,331.1 214.0,329.8 215.4,329.8 218.1,330.1 222.3,328.8 223.0,326.9 224.7,327.2 224.3,328.6 225.3,329.0 225.6,330.3 224.5,333.5 225.2,335.7 227.2,337.4 229.1,336.6 230.7,335.4 232.6,335.4 233.7,335.7 233.8,334.0 235.8,333.8 237.0,334.4 238.8,334.5 241.5,334.0Z"/>
<path fill="#66a6cd" d="M185.1,317.9 186.1,318.0 186.2,319.6 187.5,317.0 189.2,315.4 189.6,312.8 191.3,311.5 192.7,311.0 194.7,311.0 197.4,309.4 198.8,308.0 199.9,309.2 199.4,309.7 197.8,310.2 196.6,311.5 195.2,314.7 195.6,316.7 196.4,318.6 196.2,321.2 197.4,322.2 201.5,322.2 203.1,324.6 207.6,324.3 206.7,326.7 206.6,329.5 207.7,331.6 206.5,333.2 207.9,334.5 208.6,337.3 207.6,335.3 206.2,335.9 201.9,336.1 201.7,337.7 203.3,338.8 201.3,339.0 201.3,340.9 202.3,341.8 202.8,343.4 201.7,351.5 199.9,350.3 201.3,347.5 198.2,346.5 194.7,346.9 193.0,343.8 190.3,341.0 189.3,340.8 188.5,340.4 186.9,339.5 184.3,339.5 183.6,338.4 181.0,336.8 181.6,334.2 183.7,333.7 185.2,330.3 184.3,329.5 184.8,325.9 184.5,323.0 183.6,321.7 185.3,319.9Z"/>
<path fill="#f5a223" d="M224.9,318.2 226.9,319.6 228.3,321.4 229.4,322.7 231.3,325.0 230.9,326.7 229.4,328.5 229.1,330.1 230.1,331.8 231.0,333.2 232.6,335.4 230.7,335.4 229.1,336.6 227.2,337.4 225.2,335.7 224.5,333.5 225.6,330.3 225.3,329.0 224.3,328.6 224.7,327.2 223.0,326.9 221.5,325.0 222.1,323.0 224.1,322.0 223.2,320.9 225.4,318.8Z"/>
<path fill="#66a6cd" d="M181.0,336.8 179.0,337.9 178.2,338.4 178.1,340.5 177.2,341.5 176.3,343.2 176.6,345.6 176.2,346.4 177.7,347.3 178.5,346.5 178.9,348.3 177.7,349.4 177.4,350.8 177.6,352.1 179.4,352.1 180.8,353.6 182.1,349.4 183.5,348.2 186.0,347.3 188.6,344.5 189.3,340.8 188.5,340.4 186.9,339.5 184.3,339.5 183.6,338.4Z"/>
<path fill="#9dcc8a" d="M177.7,349.4 175.5,351.7 175.5,352.7 176.1,355.6 176.6,356.2 179.0,358.5 181.2,361.9 183.3,366.6 185.9,371.8 188.4,376.8 191.2,380.4 195.3,383.1 198.9,384.9 200.7,386.7 202.9,388.4 204.0,387.8 204.7,386.2 205.5,383.6 204.5,381.2 204.8,378.9 205.5,377.6 204.9,373.9 205.6,373.1 203.3,369.1 200.9,369.2 200.7,365.3 197.1,366.6 196.5,365.3 194.7,365.0 195.2,363.9 192.6,360.1 193.1,358.5 194.5,357.5 194.9,353.8 197.2,352.2 199.4,351.9 201.7,351.5 199.9,350.3 201.3,347.5 198.2,346.5 194.7,346.9 193.0,343.8 190.3,341.0 189.3,340.8 188.6,344.5 186.0,347.3 183.5,348.2 182.1,349.4 180.8,353.6 179.4,352.1 177.6,352.1 177.4,350.8Z"/>
<path fill="#9dcc8a" d="M204.7,386.2 206.3,389.8 207.6,391.1 207.2,393.8 208.7,396.6 209.9,400.2 211.4,399.9 213.1,397.4 215.7,398.2 217.8,400.2 218.5,397.9 221.1,397.9 221.5,398.6 222.1,395.5 221.8,394.1 222.9,391.8 228.8,391.0 230.9,392.2 231.1,393.1 231.6,390.2 232.2,388.0 231.5,386.3 229.9,385.5 229.8,383.1 225.7,382.9 225.3,379.9 224.5,376.5 221.5,375.7 219.1,374.4 215.3,373.1 213.9,371.7 213.1,370.5 212.8,365.8 209.9,366.3 206.2,369.2 203.3,369.1 205.6,373.1 204.9,373.9 205.5,377.6 204.8,378.9 204.5,381.2 205.5,383.6Z"/>
<path fill="#9dcc8a" d="M221.5,398.6 222.1,395.5 221.8,394.1 222.9,391.8 228.8,391.0 230.9,392.2 231.1,393.1 231.9,394.7 232.0,398.2 235.3,398.2 236.8,398.7 237.5,399.6 238.2,403.0 239.9,402.8 240.8,403.3 240.5,407.3 240.3,410.1 238.6,412.0 237.1,412.4 234.3,411.9 232.1,411.8 233.7,407.3 230.8,405.2 227.9,403.2 225.6,402.6Z"/>
<path fill="#9dcc8a" d="M235.3,419.3 237.1,419.1 239.4,421.0 242.5,422.7 244.5,424.2 246.1,425.9 246.1,428.6 243.4,431.7 240.6,431.6 236.9,430.4 235.3,429.0 235.0,425.3 235.0,422.7Z"/>
<path fill="#f5a223" d="M202.9,388.4 203.7,391.4 204.2,395.3 203.9,400.8 204.4,402.2 204.8,406.8 204.6,412.8 204.0,416.2 204.7,418.8 204.6,421.4 205.9,425.3 205.8,426.8 206.0,430.8 205.1,434.2 205.1,437.3 204.7,438.9 206.6,443.6 206.6,447.0 207.6,449.5 209.5,449.3 210.3,451.3 211.0,455.2 208.7,454.4 208.4,460.1 208.1,461.9 210.5,462.9 210.4,466.7 211.7,470.5 214.3,474.3 217.4,476.8 219.3,478.8 223.8,480.2 224.8,480.3 224.0,478.0 225.3,476.9 228.2,476.3 224.7,475.5 220.8,475.5 218.9,473.0 216.6,471.8 215.2,469.3 216.6,466.7 215.7,464.2 216.2,462.1 214.4,457.8 215.1,456.8 213.1,453.9 211.8,450.6 210.6,446.2 210.3,442.3 210.7,439.7 209.3,436.0 210.1,433.2 210.5,429.8 210.0,427.4 209.4,426.4 207.5,422.7 208.2,419.3 207.6,414.9 209.9,411.5 209.8,408.9 209.0,405.2 211.5,403.2 211.9,400.5 209.9,400.2 208.7,396.6 207.2,393.8 207.6,391.1 206.3,389.8 204.7,386.2 204.0,387.8ZM206.8,449.7 208.1,449.5 209.0,451.6 209.2,453.7 207.5,453.4 207.2,451.3ZM224.7,477.4 228.2,477.2 230.6,482.8 229.2,483.5 226.0,482.8 223.5,481.5 225.0,480.5 225.9,479.5 225.0,478.0ZM228.2,483.5 231.8,482.9 234.0,483.5 234.2,485.2 230.7,484.7Z"/>
<path fill="#9dcc8a" d="M320.1,173.0 324.0,170.9 325.3,173.0 327.7,171.6 331.7,171.4 334.9,170.7 337.5,171.8 339.0,173.9 337.2,175.5 333.5,176.9 329.3,177.8 326.4,177.4 322.5,176.9 324.0,175.5 320.7,174.3 324.3,173.9Z"/>
<path fill="#9dcc8a" d="M378.6,143.3 382.9,142.7 386.4,142.7 388.8,143.5 393.5,145.0 390.2,146.5 388.6,149.2 383.7,147.4 382.7,146.1 378.8,144.6ZM389.2,142.2 394.1,141.9 401.4,142.6 397.6,144.0 390.9,143.3ZM394.7,146.5 398.3,146.1 397.3,147.8 394.9,147.4Z"/>
<path fill="#9dcc8a" d="M376.0,190.7 373.0,188.7 372.0,185.8 371.9,183.5 372.0,181.1 375.3,179.0 377.9,177.6 380.5,176.4 382.6,174.3 384.2,172.3 385.2,170.7 387.0,168.5 389.0,166.9 385.7,167.1 388.0,165.6 390.5,165.6 392.8,163.8 396.7,162.7 400.6,161.6 405.0,160.5 408.6,160.8 414.1,162.3 412.7,163.6 414.3,163.9 411.2,165.0 411.8,164.5 409.2,162.8 405.9,163.1 405.8,164.7 404.4,165.9 401.5,165.8 398.9,164.5 397.2,165.0 396.6,166.4 393.3,166.2 391.1,167.6 390.8,168.9 389.4,171.2 387.9,171.6 388.1,173.4 386.8,175.0 387.7,175.7 385.3,176.4 384.3,177.4 384.8,180.4 385.1,181.8 386.1,182.8 385.1,183.5 385.9,184.9 384.6,186.3 384.6,188.2 384.0,188.5 382.5,187.5 380.5,188.7 378.2,190.4Z"/>
<path fill="#9dcc8a" d="M384.0,188.5 383.8,189.9 385.2,191.6 386.5,193.3 386.8,195.3 387.5,196.8 388.3,197.1 390.2,196.6 390.1,195.5 392.9,195.3 393.9,193.8 394.2,191.4 394.3,189.2 396.3,188.2 397.9,186.3 394.5,184.4 394.0,181.8 394.3,180.2 395.9,178.8 398.0,177.4 399.6,176.4 400.6,174.8 400.0,173.4 401.6,172.5 404.7,172.3 403.9,170.0 403.0,168.5 399.9,166.4 397.2,165.0 396.6,166.4 393.3,166.2 391.1,167.6 390.8,168.9 389.4,171.2 387.9,171.6 388.1,173.4 386.8,175.0 387.7,175.7 385.3,176.4 384.3,177.4 384.8,180.4 385.1,181.8 386.1,182.8 385.1,183.5 385.9,184.9 384.6,186.3 384.6,188.2Z"/>
<path fill="#9dcc8a" d="M404.7,172.3 407.1,174.1 406.2,175.7 403.1,177.8 401.0,179.7 401.5,182.3 401.9,184.2 403.8,185.1 405.2,186.2 408.8,185.5 412.3,184.7 413.7,184.5 415.5,182.8 417.0,181.3 419.3,179.0 416.3,177.4 416.6,175.7 414.9,174.3 414.7,172.7 415.1,172.5 413.1,170.0 413.7,168.2 412.0,167.3 410.8,166.2 411.2,165.0 411.8,164.5 409.2,162.8 405.9,163.1 405.8,164.7 404.4,165.9 401.5,165.8 398.9,164.5 397.2,165.0 399.9,166.4 403.0,168.5 403.9,170.0Z"/>
<path fill="#9dcc8a" d="M378.3,196.6 378.2,194.3 379.1,192.9 381.4,191.6 382.7,191.3 382.5,193.1 383.5,194.6 382.3,195.3 381.8,197.3 380.9,198.4 379.4,198.2 379.3,197.0ZM383.9,196.3 385.7,195.3 386.9,196.0 386.6,197.5 386.0,198.7 384.0,198.5 384.3,197.3ZM381.6,196.8 383.5,196.8 383.4,197.9 382.0,197.7Z"/>
<path fill="#9dcc8a" d="M351.4,210.4 354.4,209.6 355.8,209.8 358.0,209.0 360.4,208.7 363.4,208.6 365.6,207.6 365.6,207.0 364.0,206.8 365.4,205.7 366.2,204.0 365.1,203.1 363.4,203.3 363.5,202.2 363.0,201.5 362.6,200.2 360.5,199.0 359.9,197.5 359.0,196.0 357.1,195.5 357.5,194.6 359.0,193.1 359.4,191.6 356.2,191.4 355.3,191.6 357.0,189.5 353.5,189.2 352.7,190.9 351.8,193.1 351.0,193.8 352.3,195.5 351.9,197.3 353.6,196.5 353.0,198.5 356.1,198.2 355.8,199.2 357.0,200.5 356.9,202.0 354.4,202.1 353.8,203.5 354.7,204.2 353.9,205.2 352.3,205.7 354.5,206.5 356.9,207.0 357.5,206.5 356.5,207.5 354.5,207.5 353.6,208.5 352.4,210.0ZM347.1,199.2 348.7,197.9 350.9,197.4 352.2,199.0 351.2,200.3 350.0,200.2 348.3,200.1Z"/>
<path fill="#9dcc8a" d="M359.0,227.5 360.1,224.2 360.3,221.4 360.3,220.1 358.5,218.4 357.7,217.3 356.1,216.3 353.7,215.8 353.2,214.7 355.7,213.5 358.8,213.9 359.6,213.9 359.0,211.2 360.2,211.2 360.6,212.1 363.0,211.9 365.6,210.4 366.0,208.5 367.9,207.8 369.0,208.6 371.2,210.5 372.5,210.2 374.4,211.6 375.6,211.9 377.9,212.8 379.3,213.1 378.3,216.6 377.1,217.2 375.3,219.2 375.3,220.1 376.7,219.8 377.2,220.9 377.2,222.7 376.7,224.5 378.6,225.4 378.4,226.4 377.2,227.2 375.8,228.2 373.2,227.5 371.1,227.1 369.5,228.1 369.2,229.8 367.0,229.9 364.3,229.0 361.5,228.8ZM380.8,229.9 382.5,228.4 382.9,230.7 382.2,232.5 380.9,231.2Z"/>
<path fill="#9dcc8a" d="M359.0,227.5 354.9,227.2 350.7,226.8 346.6,226.4 343.5,228.4 344.2,231.2 345.6,230.7 348.9,231.1 349.7,232.0 348.2,233.5 348.4,235.3 347.9,236.9 346.8,237.2 347.9,238.7 347.2,240.3 347.8,240.8 346.7,242.5 346.9,243.5 347.9,243.4 349.1,244.4 349.8,246.0 350.7,246.5 351.3,246.1 353.3,244.7 356.3,244.6 358.3,244.6 359.4,242.9 361.3,242.2 361.7,240.4 363.2,239.4 362.2,237.4 363.9,234.8 364.7,234.2 367.2,232.8 369.5,231.2 369.7,230.2 369.2,229.8 367.0,229.9 364.3,229.0 361.5,228.8Z"/>
<path fill="#9dcc8a" d="M367.9,207.8 369.4,207.0 371.2,207.0 372.7,206.8 374.4,207.6 374.0,208.5 374.7,208.6 375.4,209.7 375.0,210.1 374.3,211.0 374.4,211.6 372.5,210.2 371.2,210.5 369.0,208.6Z"/>
<path fill="#9dcc8a" d="M369.4,207.0 370.1,206.0 370.9,205.5 371.8,204.2 372.1,203.1 373.4,202.5 374.9,202.0 376.9,202.2 376.7,204.0 376.0,204.2 376.7,205.0 374.6,205.8 375.1,207.0 374.6,208.0 374.7,208.6 374.0,208.5 374.4,207.6 372.7,206.8 371.2,207.0Z"/>
<path fill="#9dcc8a" d="M374.3,211.0 375.0,210.1 375.8,211.0 375.6,211.9 374.4,211.6Z"/>
<path fill="#66a6cd" d="M376.9,202.2 378.4,201.2 379.5,200.7 380.1,199.7 379.4,198.2 380.9,198.4 382.1,199.4 384.1,199.5 384.0,200.6 386.3,200.1 387.0,199.4 388.7,199.0 389.6,200.2 390.5,200.7 390.9,202.2 390.5,203.3 391.6,204.1 391.9,205.3 392.4,206.8 392.6,208.3 391.2,208.0 389.7,208.8 388.5,209.5 387.0,209.7 387.8,210.7 387.7,211.1 390.0,213.1 390.8,213.6 389.9,214.5 388.7,215.2 389.2,216.3 387.6,216.4 385.2,217.1 383.6,217.3 382.3,216.7 380.3,216.3 378.3,216.6 379.3,213.1 377.9,212.8 375.6,211.9 375.8,211.0 375.0,210.1 375.4,209.7 374.7,208.6 374.6,208.0 375.1,207.0 374.6,205.8 376.7,205.0 376.0,204.2 376.7,204.0Z"/>
<path fill="#9dcc8a" d="M375.3,220.1 375.3,219.2 377.1,217.2 378.3,216.6 380.3,216.3 382.3,216.7 382.2,218.0 384.1,218.4 384.1,219.2 383.5,219.9 381.9,219.6 381.3,221.0 380.0,219.6 379.0,220.8 377.2,220.9 376.7,219.8Z"/>
<path fill="#9dcc8a" d="M382.3,216.7 383.6,217.3 385.2,217.1 387.6,216.4 389.2,216.3 388.7,215.2 389.9,214.5 390.8,213.6 392.5,214.0 393.0,213.0 395.3,213.6 397.0,214.0 397.5,215.4 397.7,216.3 396.4,216.8 396.3,218.1 395.7,218.5 394.8,218.9 392.7,219.5 390.9,219.3 388.2,218.9 387.5,218.0 385.3,218.6 384.1,218.4 382.2,218.0Z"/>
<path fill="#9dcc8a" d="M378.4,226.4 379.8,225.8 381.3,224.8 383.2,225.7 384.3,227.1 386.1,229.9 388.5,231.6 390.2,232.9 392.4,233.9 394.6,235.6 396.1,236.0 397.4,239.1 396.4,241.3 397.4,241.4 398.2,240.3 399.4,238.7 397.9,236.9 398.6,235.0 401.1,236.5 401.8,236.6 402.1,235.7 398.7,233.5 396.5,232.2 396.8,231.2 394.8,231.1 392.6,229.7 391.2,226.9 389.0,225.8 388.2,223.5 388.2,222.2 389.8,221.5 391.2,221.7 390.7,220.4 390.9,219.3 388.2,218.9 387.5,218.0 385.3,218.6 384.1,218.4 384.1,219.2 383.5,219.9 381.9,219.6 381.3,221.0 380.0,219.6 379.0,220.8 377.2,220.9 377.2,222.7 376.7,224.5 378.6,225.4ZM389.5,241.8 391.3,240.8 396.2,240.7 395.3,243.1 395.4,244.8 393.0,243.8ZM380.1,234.6 382.2,232.9 383.6,234.8 383.3,238.2 382.0,238.7 380.7,238.7 380.7,236.1Z"/>
<path fill="#9dcc8a" d="M387.0,209.7 388.5,209.5 389.7,208.8 391.2,208.0 392.6,208.3 394.7,209.0 396.5,209.5 398.2,210.2 400.7,211.7 399.2,212.8 397.3,213.4 397.0,214.0 395.3,213.6 393.0,213.0 392.5,214.0 390.8,213.6 390.0,213.1 387.7,211.1 387.8,210.7Z"/>
<path fill="#9dcc8a" d="M390.5,200.7 393.8,199.8 395.6,198.9 398.1,198.4 399.0,199.6 400.7,199.4 406.9,199.6 408.4,200.6 408.8,201.5 409.6,203.2 408.5,204.8 409.6,206.5 410.7,208.3 409.9,209.5 408.4,211.5 408.2,212.8 405.0,212.0 403.2,212.5 401.9,211.5 400.7,211.7 398.2,210.2 396.5,209.5 394.7,209.0 392.6,208.3 392.4,206.8 391.9,205.3 391.6,204.1 390.5,203.3 390.9,202.2Z"/>
<path fill="#9dcc8a" d="M397.0,214.0 397.3,213.4 399.2,212.8 400.7,211.7 401.9,211.5 403.2,212.5 405.0,212.0 408.2,212.8 407.6,214.5 406.3,214.2 404.2,214.3 402.7,215.0 400.9,215.4 400.8,216.1 399.0,216.2 397.6,215.6 397.5,215.4Z"/>
<path fill="#9dcc8a" d="M395.7,218.5 396.3,218.1 396.4,216.8 397.7,216.3 397.5,215.4 397.6,215.6 399.0,216.2 400.8,216.1 400.9,215.4 402.7,215.0 404.2,214.3 406.3,214.2 407.6,214.5 409.2,215.6 407.6,216.8 406.2,219.6 404.4,220.3 403.0,220.3 401.5,220.9 399.6,221.2 397.7,220.1 396.8,219.5 396.3,219.2Z"/>
<path fill="#9dcc8a" d="M390.9,219.3 392.7,219.5 394.8,218.9 395.7,218.5 396.3,219.2 394.9,220.1 395.1,221.0 394.3,221.9 392.9,221.5 390.8,222.1 391.2,221.7 390.7,220.4Z"/>
<path fill="#66a6cd" d="M395.4,222.7 397.7,222.6 400.0,223.0 402.1,223.5 402.8,223.5 402.5,225.0 403.6,225.9 403.4,226.8 402.8,227.1 401.9,227.7 401.5,229.4 401.7,229.3 401.2,229.4 399.7,228.6 398.7,227.3 396.7,225.5 395.4,223.7Z"/>
<path fill="#9dcc8a" d="M401.5,220.9 403.0,220.3 404.4,220.3 405.6,221.3 407.2,222.7 407.1,223.7 408.7,224.5 409.3,224.0 409.9,225.3 409.3,226.3 410.8,227.8 410.0,228.8 409.7,230.2 408.2,230.3 408.4,229.1 407.6,228.4 406.2,227.7 405.9,228.4 405.4,228.8 403.7,227.8 402.8,227.1 403.4,226.8 403.6,225.9 402.5,225.0 402.8,223.5 402.2,222.4 401.9,221.9Z"/>
<path fill="#9dcc8a" d="M401.5,229.8 403.5,231.3 403.6,230.7 403.9,229.5 404.8,229.5 405.4,228.8 403.7,227.8 402.8,227.1 401.9,227.7 401.5,229.4Z"/>
<path fill="#f5a223" d="M403.5,231.3 404.0,232.8 403.8,233.8 403.7,235.1 405.2,236.4 405.4,236.9 406.2,236.6 406.7,235.3 407.4,234.3 407.2,233.9 406.3,233.3 406.1,232.6 406.1,231.3 406.1,230.9 405.3,230.0 404.8,229.5 403.9,229.5 403.6,230.7Z"/>
<path fill="#9dcc8a" d="M405.4,236.9 407.0,239.0 408.0,240.5 408.6,242.1 409.6,244.4 411.2,245.4 412.8,245.4 411.8,242.6 413.4,242.8 414.5,242.2 413.4,240.5 411.6,237.9 410.8,235.3 411.3,234.6 412.5,235.6 414.6,235.7 413.6,234.3 415.7,233.7 417.9,234.2 418.9,232.6 417.9,232.6 416.0,232.9 414.4,232.1 411.2,232.6 409.3,233.1 407.2,233.9 407.4,234.3 406.7,235.3 406.2,236.6ZM413.8,247.8 415.3,247.7 418.6,248.3 419.9,248.5 419.8,249.1 416.5,249.3 413.9,248.5ZM412.6,239.0 414.4,239.6 415.6,241.3 414.0,240.5ZM422.9,245.7 423.9,245.5 423.2,246.8ZM418.7,237.9 419.6,238.5 418.8,238.7ZM418.2,239.9 418.8,240.5 418.4,240.8Z"/>
<path fill="#9dcc8a" d="M409.9,225.3 410.7,226.3 413.8,226.4 415.9,226.7 419.4,225.5 422.3,226.5 421.3,227.8 420.8,229.1 420.5,229.7 421.8,231.0 420.2,230.7 418.8,231.1 418.3,231.7 418.9,232.6 417.9,232.6 416.0,232.9 414.4,232.1 411.2,232.6 411.2,231.7 409.7,230.2 410.0,228.8 410.8,227.8 409.3,226.3Z"/>
<path fill="#9dcc8a" d="M404.4,220.3 406.2,219.6 407.6,216.8 409.2,215.6 411.5,215.7 413.4,216.2 415.9,215.6 416.7,214.9 418.1,216.6 420.2,218.4 420.6,219.6 420.9,222.0 422.0,222.6 424.1,222.7 424.0,223.7 422.4,225.3 422.3,226.5 419.4,225.5 415.9,226.7 413.8,226.4 410.7,226.3 409.9,225.3 409.3,224.0 408.7,224.5 407.1,223.7 407.2,222.7 405.6,221.3Z"/>
<path fill="#66a6cd" d="M408.2,212.8 408.4,211.5 409.9,209.5 410.7,208.3 409.6,206.5 411.0,205.7 413.1,205.7 416.6,206.5 419.6,206.8 420.8,207.0 423.4,207.2 423.3,206.2 425.4,205.2 426.6,204.7 429.3,204.6 430.7,206.0 430.8,207.3 433.4,209.1 435.3,209.7 437.7,209.6 438.9,210.7 441.0,211.0 443.4,211.5 443.1,213.5 443.4,215.9 441.6,215.9 440.7,217.8 438.0,218.7 435.1,219.6 434.6,220.4 431.8,220.3 434.8,221.4 436.0,222.4 438.3,222.3 436.0,223.2 433.3,224.8 432.0,224.2 429.8,222.3 431.8,220.7 429.1,220.4 428.0,219.9 428.3,219.1 425.8,219.6 424.7,221.0 424.1,222.7 422.0,222.6 420.9,222.0 422.2,220.5 422.3,220.1 424.5,219.6 423.3,218.4 422.1,217.0 422.0,215.7 420.3,215.2 418.6,214.4 416.7,214.9 415.9,215.6 413.4,216.2 411.5,215.7 409.2,215.6 407.6,214.5Z"/>
<path fill="#9dcc8a" d="M408.4,200.6 410.2,200.7 412.2,199.7 412.5,198.2 414.3,197.3 413.7,196.3 415.6,196.0 416.5,195.2 419.1,196.1 422.0,196.5 422.5,198.0 422.2,198.5 423.5,200.0 425.2,201.0 426.6,202.0 425.6,202.7 424.2,202.5 425.4,205.2 423.3,206.2 423.4,207.2 420.8,207.0 419.6,206.8 416.6,206.5 413.1,205.7 411.0,205.7 409.6,206.5 408.5,204.8 409.6,203.2 408.8,201.5Z"/>
<path fill="#66a6cd" d="M400.7,199.4 401.3,198.1 403.0,197.4 403.2,197.3 403.7,197.4 406.3,198.1 406.9,199.6Z"/>
<path fill="#9dcc8a" d="M403.0,195.4 402.6,193.6 403.5,191.8 405.3,191.3 406.5,193.0 408.4,193.1 408.5,191.0 410.7,190.8 411.7,191.1 414.3,191.8 415.3,192.6 416.5,195.2 415.6,196.0 413.7,196.3 410.5,195.0 408.5,194.8 404.7,194.6Z"/>
<path fill="#9dcc8a" d="M408.5,191.0 408.3,189.9 406.6,189.2 406.2,187.8 408.5,187.0 410.9,186.8 414.6,187.2 413.8,188.5 414.3,189.9 414.3,191.8 411.7,191.1 410.7,190.8Z"/>
<path fill="#f5a223" d="M358.0,248.9 356.3,248.3 354.1,248.6 351.3,246.8 350.0,247.0 348.0,251.7 346.2,252.8 344.0,253.8 342.5,256.2 341.2,258.3 341.6,261.1 340.2,263.7 338.1,265.4 334.1,267.5 333.4,268.3 343.5,268.3 343.5,265.6 347.1,263.2 351.1,262.4 353.1,260.6 354.9,259.8 356.2,257.7 360.1,256.7 360.2,255.4 358.9,253.0 359.1,250.4Z"/>
<path fill="#9dcc8a" d="M358.0,248.9 361.4,247.3 363.0,246.5 365.6,245.2 369.4,244.4 373.8,244.6 377.7,244.2 379.6,244.2 381.3,244.1 380.7,245.5 380.8,248.6 379.2,252.0 382.7,256.7 383.8,261.5 384.8,264.8 384.7,267.4 385.1,271.6 383.8,272.1 385.3,276.5 389.7,279.2 379.8,286.1 375.9,289.7 372.4,290.5 370.3,290.9 370.1,288.8 366.9,287.5 365.4,285.4 352.0,275.2 343.5,269.2 343.5,268.3 343.5,265.6 347.1,263.2 351.1,262.4 353.1,260.6 354.9,259.8 356.2,257.7 360.1,256.7 360.2,255.4 358.9,253.0 359.1,250.4Z"/>
<path fill="#9dcc8a" d="M418.2,257.9 422.7,258.7 426.8,260.0 428.7,259.1 431.1,258.0 434.0,258.8 437.3,259.2 438.2,258.7 440.2,263.5 439.4,267.4 439.1,268.1 437.6,266.6 436.6,265.8 435.0,262.3 435.2,264.8 436.2,266.6 437.6,268.2 438.8,271.3 439.6,272.9 441.9,277.1 442.6,277.8 443.2,280.5 446.1,283.1 419.2,283.1 418.3,264.3 417.8,262.2Z"/>
<path fill="#66a6cd" d="M324.2,286.2 326.1,288.3 325.4,289.9 326.4,293.2 325.2,298.5 327.5,297.2 330.2,297.2 332.3,298.5 334.9,302.0 335.9,301.3 337.9,300.3 341.4,300.2 350.3,300.0 350.3,297.4 348.2,275.2 352.0,275.2 343.5,269.2 343.4,272.6 335.9,272.6 335.8,279.3 333.5,280.5 333.4,284.8 324.4,284.8Z"/>
<path fill="#f5a223" d="M419.2,283.1 419.4,288.3 417.2,288.3 417.2,289.6 417.5,299.5 415.1,300.8 413.3,304.5 414.3,307.3 413.2,307.6 415.3,311.8 416.7,314.4 417.1,317.7 418.4,317.8 420.2,313.6 423.7,315.7 426.9,315.4 428.9,316.0 430.5,314.9 431.6,313.6 434.0,315.0 437.1,310.0 438.8,308.7 438.7,310.2 440.8,315.7 441.1,314.4 441.5,312.8 442.1,311.8 443.2,309.7 445.6,307.3 446.0,305.0 446.3,303.3 445.9,301.3 446.9,297.9 447.0,296.0 450.5,293.5 447.7,291.4 447.1,289.3 446.9,285.7 446.1,283.1Z"/>
<path fill="#f5a223" d="M450.5,293.5 452.4,298.7 452.8,299.8 454.1,301.3 456.9,302.6 459.8,306.0 461.5,307.3 459.9,308.0 458.4,305.8 456.0,303.6 454.2,302.6 451.9,302.3 449.3,301.7 447.3,303.2 446.3,303.3 445.9,301.3 446.9,297.9 447.0,296.0Z"/>
<path fill="#f5a223" d="M398.8,279.3 417.2,289.6 417.5,299.5 415.1,300.8 413.3,304.5 414.3,307.3 413.2,307.6 415.3,311.8 412.6,312.8 409.4,316.7 406.2,317.5 401.9,320.7 398.4,320.9 397.7,318.3 394.9,314.7 398.4,314.4 397.2,312.0 397.3,308.9 396.2,307.3 395.1,306.4 393.9,304.7 393.5,302.9 398.1,296.4 398.2,292.2 398.9,287.5 396.7,284.6 396.6,280.5Z"/>
<path fill="#f5a223" d="M396.6,280.5 394.8,281.5 389.7,279.2 379.8,286.1 375.9,289.7 372.4,290.5 372.5,296.4 372.4,297.7 370.8,300.3 365.8,300.6 363.4,301.5 365.0,305.0 365.1,305.6 367.6,307.3 368.3,309.4 371.1,310.0 371.2,307.9 372.2,305.3 375.4,304.2 378.6,306.6 382.5,306.4 384.8,307.1 385.7,305.8 390.3,306.3 393.9,304.7 393.5,302.9 398.1,296.4 398.2,292.2 398.9,287.5 396.7,284.6Z"/>
<path fill="#66a6cd" d="M363.4,301.5 361.2,301.1 358.2,303.4 356.2,304.7 355.3,305.8 353.0,306.0 352.7,307.9 350.7,309.7 350.2,313.2 352.0,315.2 352.9,315.4 356.4,315.3 356.5,316.0 356.4,314.4 356.4,311.8 362.5,311.5 364.9,311.8 366.0,310.6 368.3,309.4 367.6,307.3 365.1,305.6 365.0,305.0Z"/>
<path fill="#66a6cd" d="M325.2,298.5 323.8,301.6 322.8,302.1 324.4,304.5 325.0,305.0 324.5,306.4 324.6,308.3 326.8,308.0 331.4,307.5 333.0,307.9 334.6,308.3 336.8,308.1 336.7,306.6 335.8,305.5 335.3,303.2 334.9,302.0 332.3,298.5 330.2,297.2 327.5,297.2Z"/>
<path fill="#66a6cd" d="M324.5,306.4 325.0,305.0 327.6,304.6 329.6,305.0 331.2,305.4 331.1,305.8 329.4,305.6 327.6,305.5 326.6,306.0Z"/>
<path fill="#f5a223" d="M328.4,311.9 329.5,313.4 331.3,315.7 332.2,316.9 334.1,314.7 337.1,314.4 338.2,316.2 338.4,318.8 339.1,318.3 341.0,318.6 341.2,321.2 343.4,320.8 345.1,318.6 344.2,318.3 344.6,313.9 343.8,311.8 342.8,311.8 341.5,308.7 339.2,308.7 336.8,308.1 334.6,308.3 333.0,307.9 331.4,307.5 331.4,310.0 329.6,310.5Z"/>
<path fill="#66a6cd" d="M332.2,316.9 332.4,318.3 333.1,320.1 336.3,322.4 338.0,320.4 339.1,318.3 338.4,318.8 338.2,316.2 337.1,314.4 334.1,314.7Z"/>
<path fill="#66a6cd" d="M336.3,322.4 337.9,324.1 341.4,326.7 345.4,329.1 345.5,325.4 343.7,323.8 343.4,320.8 341.2,321.2 341.0,318.6 339.1,318.3 338.0,320.4Z"/>
<path fill="#9dcc8a" d="M345.4,329.1 349.0,328.1 353.6,326.8 355.7,327.2 355.4,322.7 357.1,319.1 356.5,316.0 356.4,315.3 352.9,315.4 352.0,315.2 350.2,313.2 348.6,312.8 347.7,313.4 344.6,313.9 344.2,318.3 345.1,318.6 343.4,320.8 343.7,323.8 345.5,325.4Z"/>
<path fill="#f5a223" d="M355.7,327.2 358.2,328.1 362.3,326.0 365.6,324.6 364.1,322.2 364.1,318.8 363.7,315.7 362.8,312.8 362.5,311.5 356.4,311.8 356.4,314.4 356.5,316.0 357.1,319.1 355.4,322.7Z"/>
<path fill="#f5a223" d="M365.6,324.6 366.6,324.3 366.5,317.0 366.0,316.2 364.6,313.4 364.9,311.8 362.5,311.5 362.8,312.8 363.7,315.7 364.1,318.8 364.1,322.2Z"/>
<path fill="#f5a223" d="M366.6,324.3 369.0,323.9 369.1,320.1 369.9,316.7 371.5,312.8 371.1,310.0 368.3,309.4 368.3,308.7 366.0,310.6 364.9,311.8 364.6,313.4 366.0,316.2 366.5,317.0Z"/>
<path fill="#f5a223" d="M382.4,328.5 383.3,330.1 385.1,330.1 385.4,334.4 388.9,334.8 393.5,334.8 396.2,334.9 399.9,336.1 400.1,334.8 397.6,330.3 396.2,327.4 396.4,324.3 398.4,320.9 397.7,318.3 394.9,314.7 398.4,314.4 397.2,312.0 397.3,308.9 396.2,307.3 395.1,306.4 395.3,308.1 396.3,310.5 394.4,311.8 393.3,314.4 392.0,318.0 389.9,322.0 388.3,323.3 385.3,323.5 383.3,325.9Z"/>
<path fill="#66a6cd" d="M385.4,337.9 384.6,339.5 383.1,342.3 384.5,345.5 385.8,347.8 388.4,350.8 390.2,349.6 389.5,347.8 391.6,346.5 392.8,346.8 396.0,346.5 396.0,345.5 396.2,342.1 394.9,341.0 394.9,338.9 396.2,337.9 395.8,337.0 393.2,337.1 393.5,334.8 388.9,334.8 389.0,337.9Z"/>
<path fill="#9dcc8a" d="M377.8,339.5 378.4,339.6 378.0,340.4Z"/>
<path fill="#66a6cd" d="M455.6,367.8 454.2,366.5 453.5,363.7 453.2,360.6 453.2,358.3 452.1,356.2 453.1,352.7 449.7,349.6 449.5,348.3 441.0,343.1 433.1,343.1 433.9,346.5 433.1,346.8 432.9,348.1 433.8,349.1 431.9,352.0 430.5,352.1 430.9,357.5 433.6,362.2 436.8,364.3 438.5,365.0 440.6,365.6 442.0,365.6 442.9,370.7 446.4,371.0 451.1,370.3Z"/>
<path fill="#66a6cd" d="M429.6,347.7 429.4,346.8 430.5,344.4 431.1,344.0 433.1,343.2 433.9,346.5 433.1,346.8 431.7,347.8Z"/>
<path fill="#66a6cd" d="M429.6,347.7 431.7,347.8 433.1,346.8 432.9,348.1 433.8,349.1 431.9,352.0 430.5,352.1 430.1,349.1Z"/>
<path fill="#f5a223" d="M436.3,410.6 435.8,408.2 437.9,406.3 442.6,403.2 442.9,398.2 441.8,394.0 441.8,392.3 445.2,389.6 446.9,387.2 451.8,384.1 455.4,381.0 455.8,379.4 455.7,374.4 455.6,367.8 451.1,370.3 446.4,371.0 442.9,370.7 442.1,371.8 441.6,372.3 442.2,375.7 444.8,379.4 444.4,382.3 443.1,385.1 441.2,383.1 441.6,378.6 438.9,377.0 433.6,379.1 431.8,379.1 432.1,381.4 434.2,382.3 437.7,384.1 437.9,386.2 437.2,389.6 437.4,391.7 436.3,394.3 436.0,396.1 433.4,399.0 434.7,404.5 434.3,408.0 434.6,409.2 434.5,410.5Z"/>
<path fill="#9dcc8a" d="M438.5,365.0 440.6,365.6 442.0,365.6 442.9,370.7 442.1,371.8 441.6,372.3 442.2,375.7 444.8,379.4 444.4,382.3 443.1,385.1 441.2,383.1 441.6,378.6 438.9,377.0 437.6,376.0 438.4,373.4 439.1,370.8 439.2,368.7 438.6,365.6Z"/>
<path fill="#66a6cd" d="M420.2,387.0 421.9,387.4 424.2,387.4 426.6,384.4 428.7,382.1 432.1,381.4 434.2,382.3 437.7,384.1 437.9,386.2 437.2,389.6 437.4,391.7 436.3,394.3 436.0,396.1 433.4,399.0 431.1,398.7 429.1,398.5 426.9,396.9 425.4,395.6 424.6,394.0 422.2,391.4 421.4,389.3Z"/>
<path fill="#9dcc8a" d="M407.7,405.1 407.9,397.9 410.2,397.9 410.5,388.3 415.8,387.5 417.8,387.5 420.2,387.0 421.4,389.3 422.2,391.4 424.6,394.0 425.4,395.6 426.9,396.9 429.1,398.5 426.6,399.8 423.5,402.2 422.1,404.7 419.9,407.6 417.2,407.6 414.4,406.5 412.0,409.2 409.0,410.6 407.6,408.4Z"/>
<path fill="#f5a223" d="M399.4,415.2 400.5,418.0 402.2,422.7 403.0,425.6 401.9,426.1 403.0,429.0 403.0,430.2 403.9,430.2 406.3,431.4 411.0,429.5 413.9,429.5 418.9,429.3 423.9,426.6 428.6,421.4 430.0,420.4 431.6,418.4 433.9,415.7 436.3,410.6 434.5,410.5 432.6,411.8 431.8,410.6 431.7,409.4 432.5,407.7 434.3,408.0 434.7,404.5 433.4,399.0 431.1,398.7 429.1,398.5 426.6,399.8 423.5,402.2 422.1,404.7 419.9,407.6 417.2,407.6 414.4,406.5 412.0,409.2 409.0,410.6 407.6,408.4 407.7,405.1 407.3,414.6 405.0,416.1 401.9,415.6Z"/>
<path fill="#66a6cd" d="M422.6,417.8 424.3,415.9 426.6,415.2 428.0,417.3 427.2,418.7 424.9,420.5 423.4,419.6Z"/>
<path fill="#66a6cd" d="M475.7,371.8 477.5,377.0 478.0,380.4 476.2,381.0 475.2,385.7 475.1,387.5 473.3,392.7 471.1,398.7 468.5,405.5 464.1,407.3 461.5,405.8 461.1,401.6 460.5,397.9 463.4,392.7 462.7,388.8 464.0,382.8 468.4,381.5 472.2,378.6 472.6,375.7 474.8,373.1Z"/>
<path fill="#66a6cd" d="M461.8,370.3 462.5,370.5 462.4,371.6 461.9,371.3ZM464.2,372.1 464.8,372.3 464.6,372.9Z"/>
<path fill="#66a6cd" d="M492.7,392.7 493.6,392.7 493.5,394.0 492.6,393.9Z"/>
<path fill="#66a6cd" d="M307.2,296.6 308.2,296.4 307.9,297.3ZM308.6,300.6 309.3,300.8 309.1,301.6 308.6,301.3ZM305.2,295.9 305.9,295.6 305.9,296.4ZM310.5,298.2 311.1,298.2 310.9,298.7ZM306.9,301.5 307.3,301.3 307.2,301.9Z"/>
<path fill="#66a6cd" d="M414.3,163.9 416.8,163.4 418.8,164.5 423.2,165.1 427.0,166.7 430.7,167.6 433.6,170.0 432.0,171.4 428.6,171.7 423.1,170.7 419.6,170.5 418.3,169.2 422.7,172.3 424.1,175.3 427.5,176.7 430.3,176.7 428.1,174.1 432.7,175.2 434.1,175.2 432.5,173.0 435.3,170.9 439.2,171.2 437.2,169.1 437.4,167.3 435.7,165.9 440.6,166.9 442.5,169.6 444.7,169.8 445.3,168.0 448.9,166.4 453.2,166.7 455.0,166.9 458.9,166.2 462.4,166.4 464.5,165.6 463.2,163.2 470.9,165.1 474.5,165.4 477.6,166.4 474.5,164.0 472.6,161.4 473.9,159.7 473.2,156.9 474.0,155.9 478.6,156.7 481.2,159.7 482.9,162.9 485.0,166.2 487.7,170.5 489.1,170.0 487.6,166.2 484.2,161.8 483.7,158.6 484.1,157.6 487.6,158.0 489.2,158.0 495.0,159.3 498.7,160.8 498.7,162.3 500.7,162.3 497.8,159.7 492.9,157.6 490.5,155.5 498.4,154.6 497.9,152.4 502.6,151.0 509.4,150.2 514.6,149.4 518.2,147.1 524.0,148.4 532.8,149.4 536.4,150.4 537.7,151.4 536.3,153.4 533.5,155.1 532.7,156.5 536.2,154.6 542.7,155.5 546.1,155.1 553.5,156.5 559.0,156.5 563.0,155.3 568.9,156.7 573.5,159.7 576.7,161.0 578.3,159.7 582.1,159.5 587.0,160.1 589.7,159.7 588.4,157.6 592.7,157.1 597.9,158.0 603.8,158.2 611.6,160.8 617.0,160.5 623.7,161.2 628.9,163.6 632.0,164.0 635.5,163.6 641.3,163.6 648.6,165.1 647.8,165.1 645.0,162.7 651.0,163.4 656.6,163.8 661.0,164.5 664.6,165.2 678.1,174.1 676.8,175.0 674.6,174.7 676.1,176.4 685.1,179.9 679.5,181.6 677.5,183.5 676.8,185.8 669.8,185.4 666.9,186.1 664.5,186.3 668.6,190.7 668.2,191.1 674.1,195.0 674.3,198.0 675.5,198.5 675.4,202.5 673.2,203.0 675.3,205.7 674.4,208.2 669.3,204.2 662.4,198.0 659.0,193.1 660.2,190.7 658.9,187.0 659.8,184.9 659.2,182.3 658.8,179.9 655.8,179.9 657.3,184.2 652.6,181.3 648.8,181.6 647.4,182.8 649.9,187.3 646.3,188.2 641.7,186.9 638.5,187.0 632.3,187.3 627.9,187.5 626.4,190.7 625.4,193.6 626.5,196.8 627.1,199.0 624.0,198.7 630.0,200.7 632.4,201.2 633.8,200.0 638.7,202.2 639.5,203.0 639.5,205.0 640.7,204.7 642.0,208.0 645.7,213.0 645.6,217.3 644.6,221.2 644.0,225.0 642.2,228.8 641.0,228.9 638.5,227.8 637.4,229.4 637.1,230.2 636.2,228.8 636.4,227.1 634.1,223.7 634.9,222.4 637.7,223.0 637.0,220.7 636.0,217.6 635.5,214.7 632.4,215.3 629.0,216.3 626.7,214.0 623.0,212.0 618.5,211.0 617.4,209.7 610.4,204.2 608.3,202.8 603.5,201.7 599.1,202.2 598.2,203.7 599.9,204.1 600.2,206.2 600.5,209.7 599.6,211.5 599.4,211.7 596.6,210.9 593.6,210.0 591.2,209.8 589.2,211.6 585.6,212.6 580.9,212.1 576.9,210.5 572.3,209.5 566.7,209.0 565.6,207.2 560.4,206.1 557.7,205.2 557.1,208.0 558.8,209.2 557.9,211.1 552.9,210.5 546.9,208.5 542.7,210.0 539.5,211.7 539.5,212.6 538.6,212.8 536.8,211.0 534.0,211.5 532.9,210.4 528.7,208.0 526.0,208.6 522.5,207.5 522.0,208.5 514.9,202.2 511.3,200.5 511.4,199.5 507.8,201.2 505.4,200.6 500.8,200.0 499.5,197.5 498.8,197.3 495.3,197.3 494.2,198.1 489.0,199.6 481.3,200.6 482.1,201.6 483.4,203.0 482.5,204.2 481.1,205.5 484.6,207.0 485.4,208.5 482.0,208.3 481.6,209.1 478.6,207.7 475.0,207.8 473.8,209.1 471.1,208.0 466.7,206.7 463.2,206.2 459.9,209.0 460.3,210.7 457.8,209.5 456.8,212.0 457.4,212.5 456.9,214.5 458.2,215.0 458.9,216.3 460.8,216.3 463.2,219.6 462.7,220.9 460.6,221.7 459.5,224.2 461.3,226.3 462.1,228.4 465.1,231.3 464.0,233.0 460.4,231.2 458.4,229.7 456.0,229.1 454.6,229.4 451.6,227.8 449.5,227.8 446.3,227.3 443.9,225.8 441.6,224.8 440.2,224.0 438.5,222.7 440.2,221.4 440.9,220.7 440.9,218.9 442.8,218.0 440.7,217.8 441.6,215.9 443.4,215.9 443.1,213.5 443.4,211.5 441.0,211.0 438.9,210.7 437.7,209.6 435.3,209.7 433.4,209.1 430.8,207.3 430.7,206.0 429.3,204.6 426.6,204.7 425.4,205.2 424.2,202.5 425.6,202.7 426.6,202.0 425.2,201.0 423.5,200.0 422.2,198.5 422.5,198.0 422.0,196.5 419.1,196.1 416.5,195.2 415.3,192.6 414.3,191.8 414.3,189.9 413.8,188.5 414.6,187.2 416.3,186.1 418.5,186.1 416.1,185.4 415.0,184.7 413.7,184.5 415.5,182.8 417.0,181.3 419.3,179.0 416.3,177.4 416.6,175.7 414.9,174.3 414.7,172.7 415.1,172.5 413.1,170.0 413.7,168.2 412.0,167.3 410.8,166.2 411.2,165.0ZM61.0,165.2 62.3,166.4 63.9,168.2 66.2,169.6 68.6,170.3 69.0,171.6 64.3,172.7 59.0,175.3 57.5,175.7 54.7,174.6 55.2,173.0 52.7,172.3 51.5,172.5 54.4,171.2 50.8,171.8 47.5,174.1ZM447.1,159.7 447.1,157.6 447.0,155.9 450.1,155.7 451.1,153.4 452.2,151.4 457.2,149.8 463.1,148.6 467.1,148.8 462.5,150.8 457.5,152.4 454.9,154.4 452.6,155.9 455.7,158.6 453.3,160.1 457.4,161.4 453.3,161.6 450.5,161.0ZM498.4,143.5 496.9,141.2 499.1,140.7 501.8,141.7 505.6,142.4 508.8,144.2 507.9,145.1 502.8,144.6ZM509.6,144.8 512.2,144.0 517.2,145.5 515.5,146.5 510.8,146.3ZM574.6,151.8 576.6,150.2 582.2,150.8 587.8,151.4 595.0,152.0 595.1,153.0 586.3,152.4 582.9,153.2 577.9,153.0ZM585.0,155.7 589.9,155.3 589.4,156.5 586.2,156.5ZM590.0,151.8 597.2,152.4 597.4,153.0 591.3,152.6ZM426.6,141.7 429.0,141.0 434.8,141.2 434.8,142.2 429.9,142.4ZM655.5,160.8 657.6,160.9 655.6,159.7 654.0,159.7ZM68.0,160.9 72.4,160.5 73.1,159.6 70.0,159.7ZM638.9,199.5 644.4,204.2 647.3,208.0 655.1,213.9 650.6,212.5 652.0,215.6 656.1,218.6 657.4,220.7 654.4,218.9 654.7,220.9 652.5,218.1 650.1,214.3 647.0,210.5 642.9,206.2 639.5,202.2ZM443.5,164.5 445.4,164.2 447.0,164.9 445.2,165.8ZM459.4,162.3 462.9,162.7 461.9,163.8Z"/>
<path fill="#f5a223" d="M463.2,219.6 460.8,216.3 458.9,216.3 458.2,215.0 456.9,214.5 457.4,212.5 456.8,212.0 457.8,209.5 460.3,210.7 459.9,209.0 463.2,206.2 466.7,206.7 471.1,208.0 473.8,209.1 475.0,207.8 478.6,207.7 481.6,209.1 482.0,208.3 485.4,208.5 484.6,207.0 481.1,205.5 482.5,204.2 483.4,203.0 482.1,201.6 481.3,200.6 489.0,199.6 494.2,198.1 495.3,197.3 498.8,197.3 499.5,197.5 500.8,200.0 505.4,200.6 507.8,201.2 511.4,199.5 511.3,200.5 514.9,202.2 522.0,208.5 522.5,207.5 526.0,208.6 528.7,208.0 532.9,210.4 534.0,211.5 536.8,211.0 538.6,212.8 536.8,214.5 537.3,217.6 532.0,217.6 532.3,221.7 533.1,222.7 531.8,222.4 529.7,223.0 528.0,223.5 529.8,225.3 531.6,227.8 531.3,230.4 528.6,228.9 521.8,228.6 518.4,227.8 516.5,228.4 516.7,229.7 513.1,228.9 511.8,230.3 510.7,232.0 508.5,233.0 508.1,234.6 506.9,234.0 506.2,233.0 503.7,233.0 502.6,230.9 501.0,228.4 498.0,226.6 492.1,227.1 489.6,225.0 483.5,221.7 478.5,223.2 481.0,232.8 479.9,232.9 477.9,230.8 476.1,230.0 474.2,230.7 473.4,231.6 472.5,228.9 470.0,227.8 469.5,226.7 467.2,225.0 466.9,224.2 468.7,222.7 471.0,222.2 472.5,222.4 473.7,220.7 471.5,218.6 468.9,218.1 467.3,217.8 465.1,218.9Z"/>
<path fill="#66a6cd" d="M539.5,212.6 539.5,211.7 542.7,210.0 546.9,208.5 552.9,210.5 557.9,211.1 558.8,209.2 557.1,208.0 557.7,205.2 560.4,206.1 565.6,207.2 566.7,209.0 572.3,209.5 576.9,210.5 580.9,212.1 585.6,212.6 589.2,211.6 591.2,209.8 593.6,210.0 596.6,210.9 596.8,213.5 597.2,214.8 601.6,216.3 603.2,215.7 607.9,218.7 604.3,219.1 603.4,219.6 601.9,219.9 599.9,222.2 597.9,223.9 594.0,223.1 593.9,224.9 595.9,226.6 593.9,228.9 592.1,229.8 588.3,229.8 584.1,232.0 577.1,230.4 572.3,229.3 564.7,229.0 560.9,225.1 556.1,223.3 550.6,222.7 548.8,219.9 548.4,218.2 545.1,215.9 540.6,214.0Z"/>
<path fill="#9dcc8a" d="M478.5,223.2 483.5,221.7 489.6,225.0 492.1,227.1 498.0,226.6 501.0,228.4 502.6,230.9 503.7,233.0 506.2,233.0 506.9,234.0 508.1,234.6 508.5,233.0 510.7,232.0 511.8,230.3 514.0,232.2 517.5,233.9 516.1,235.1 513.5,235.5 512.7,235.6 512.1,235.0 511.6,233.5 509.9,234.0 509.9,235.6 508.5,235.7 507.7,237.4 506.5,237.9 507.6,238.7 509.1,240.5 508.8,241.6 508.8,243.4 506.0,243.0 504.5,241.6 503.4,240.5 500.6,238.8 496.8,236.6 495.1,235.1 493.5,233.0 489.9,232.8 489.3,231.5 488.8,230.4 485.6,229.1 484.2,230.4 483.1,232.8 481.0,232.8Z"/>
<path fill="#9dcc8a" d="M473.4,231.6 474.2,230.7 476.1,230.0 477.9,230.8 479.9,232.9 481.0,232.8 483.1,232.8 484.2,230.4 485.6,229.1 488.8,230.4 489.3,231.5 489.9,232.8 493.5,233.0 495.1,235.1 496.8,236.6 500.6,238.8 503.4,240.5 504.5,241.6 506.0,243.0 504.1,242.6 502.8,243.4 502.3,245.7 499.7,246.9 498.1,248.6 495.6,247.6 494.7,245.0 493.0,244.8 490.3,242.6 488.3,242.2 485.6,240.7 483.5,241.1 481.6,241.1 480.7,242.6 478.8,243.0 477.8,239.0 476.0,237.9 475.4,236.1 474.5,234.8 476.0,233.8 474.6,233.3Z"/>
<path fill="#66a6cd" d="M511.8,230.3 513.1,228.9 516.7,229.7 516.5,228.4 518.4,227.8 521.8,228.6 528.6,228.9 531.3,230.4 528.5,233.3 525.4,233.7 523.4,235.1 521.4,235.0 519.8,236.6 519.7,237.5 516.3,237.8 513.4,237.4 510.8,237.3 510.2,236.4 512.6,236.1 513.5,235.5 516.1,235.1 517.5,233.9 514.0,232.2Z"/>
<path fill="#f5a223" d="M454.6,233.3 457.8,232.9 459.3,234.0 460.2,235.6 461.9,237.3 462.2,239.0 461.3,239.1 460.4,237.7 458.6,236.8 458.2,236.9 456.3,236.1 455.6,235.7Z"/>
<path fill="#9dcc8a" d="M457.8,232.9 461.1,233.4 460.9,231.5 460.4,231.2 462.6,232.5 464.0,233.0 465.1,231.3 466.5,233.0 467.9,234.6 469.7,235.1 467.9,235.6 468.1,237.7 467.5,240.1 465.4,239.2 465.8,237.7 464.5,236.9 462.2,239.0 461.9,237.3 460.2,235.6 459.3,234.0ZM458.2,236.9 458.6,236.8 460.4,237.7 461.3,239.1 459.8,238.7 457.4,237.7Z"/>
<path fill="#f5a223" d="M457.4,237.7 458.2,236.9 459.8,238.7 461.3,239.1 462.2,239.0 464.5,236.9 465.8,237.7 465.4,239.2 467.5,240.1 468.3,242.4 470.8,242.9 473.1,244.7 476.1,244.7 479.0,244.2 478.8,243.0 480.7,242.6 481.6,241.1 483.5,241.1 485.6,240.7 488.3,242.2 490.3,242.6 493.0,244.8 494.7,245.0 495.6,247.6 495.1,252.7 496.8,258.3 498.8,258.5 499.2,260.0 497.6,262.5 499.9,265.6 502.5,266.8 502.9,269.5 504.2,270.5 502.1,271.6 501.1,272.6 501.0,274.7 498.7,274.5 495.1,274.2 491.1,273.1 490.1,270.5 488.5,269.6 485.3,271.3 482.1,270.8 479.8,268.4 477.3,267.7 475.6,265.1 473.6,261.7 471.1,261.1 470.3,262.3 468.9,261.0 468.1,259.6 468.1,257.5 463.8,254.5 461.9,251.9 462.1,250.2 463.1,248.9 461.1,246.5 459.9,244.4 459.3,243.4 457.7,240.3 456.9,238.7Z"/>
<path fill="#66a6cd" d="M440.6,246.7 440.3,247.6 441.0,250.0 442.1,250.2 442.6,251.2 441.5,252.8 441.2,253.3 441.1,253.6 441.2,255.0 443.6,256.2 447.7,253.3 452.1,250.7 452.4,249.7 452.6,247.6 452.1,245.5 454.0,243.7 451.1,243.7 449.1,244.4 445.8,244.3 442.7,244.8 441.8,244.4 442.0,246.0 441.2,246.9Z"/>
<path fill="#66a6cd" d="M439.7,254.1 441.0,250.0 442.1,250.2 442.6,251.2 441.5,252.8 441.2,253.3 441.1,253.6Z"/>
<path fill="#9dcc8a" d="M438.2,258.7 439.1,256.7 439.4,254.7 439.7,254.1 441.1,253.6 441.2,255.0 440.9,255.9 440.9,258.3 440.9,259.8 440.4,263.4 440.2,263.5Z"/>
<path fill="#66a6cd" d="M439.6,255.7 440.9,255.9 441.0,258.3 439.9,258.7 439.7,257.2Z"/>
<path fill="#f5a223" d="M441.2,255.0 443.6,256.2 447.7,253.3 449.0,256.6 444.3,258.3 446.8,260.9 445.8,262.2 444.1,262.6 442.7,264.3 440.3,263.9 440.4,263.4 440.9,259.8 440.9,258.3 440.9,255.9Z"/>
<path fill="#9dcc8a" d="M440.3,263.9 439.8,267.3 441.2,267.4 443.3,271.1 446.3,275.2 446.6,277.3 448.3,277.6 450.7,281.5 451.2,284.4 452.6,287.0 455.8,290.9 457.6,293.8 459.5,296.1 460.3,297.7 461.2,296.9 460.9,295.1 462.9,295.1 465.6,295.1 468.4,295.6 469.8,296.3 470.9,295.9 472.3,293.0 474.3,291.9 480.8,290.9 487.4,288.3 488.4,283.1 487.2,281.2 481.3,280.6 478.8,277.6 478.8,277.2 477.8,276.3 476.8,275.9 475.0,272.9 474.8,271.5 473.5,269.5 471.6,268.2 470.4,266.0 468.9,266.1 466.1,264.5 462.0,264.3 455.7,259.3 451.7,257.1 449.0,256.6 444.3,258.3 446.8,260.9 445.8,262.2 444.1,262.6 442.7,264.3Z"/>
<path fill="#9dcc8a" d="M483.7,297.0 486.0,296.1 488.6,294.6 491.0,293.5 493.7,290.9 493.7,287.8 495.4,287.2 495.9,284.6 497.6,281.8 494.7,278.9 490.9,277.6 489.3,275.3 488.3,277.8 487.2,281.2 488.4,283.1 487.4,288.3 480.8,290.9ZM488.4,272.5 489.2,271.8 489.1,273.7 488.4,273.4Z"/>
<path fill="#66a6cd" d="M478.8,277.2 481.0,277.3 484.2,277.3 485.4,276.7 486.8,274.6 488.2,272.5 488.4,273.4 489.1,273.7 489.3,275.3 488.3,277.8 487.2,281.2 481.3,280.6 478.8,277.6Z"/>
<path fill="#66a6cd" d="M476.8,275.9 476.5,273.9 476.9,272.5 477.6,272.2 478.4,273.1 478.6,275.2 477.8,276.3Z"/>
<path fill="#f5a223" d="M497.6,262.5 499.9,265.6 502.5,266.8 502.9,269.5 504.2,270.5 502.1,271.6 501.1,272.6 501.0,274.7 504.1,274.7 507.9,274.7 511.6,273.9 512.5,275.6 514.6,278.1 516.2,278.6 517.4,277.1 520.1,277.3 522.1,276.8 520.9,273.4 519.5,271.1 518.0,270.0 519.6,267.4 522.9,267.5 524.7,264.8 525.3,262.3 527.2,259.6 526.9,257.2 528.4,256.2 525.7,254.9 524.8,253.8 523.8,250.2 527.9,250.4 530.2,249.1 531.6,247.8 527.9,246.9 526.5,244.7 523.3,243.8 519.4,244.4 516.9,246.3 518.4,248.3 517.8,251.6 515.4,251.7 516.6,253.4 515.2,257.2 512.2,258.7 509.3,259.7 509.6,262.6 505.0,263.7 501.4,263.7Z"/>
<path fill="#66a6cd" d="M516.2,278.6 517.0,279.9 518.3,282.4 522.0,286.1 523.4,286.5 525.6,285.4 526.5,283.9 526.6,282.5 527.4,285.7 528.0,290.9 529.7,296.1 531.4,300.3 534.0,306.6 536.6,311.3 538.0,314.7 539.8,318.6 541.1,319.4 542.5,317.3 544.5,316.2 545.9,313.6 545.8,310.5 546.5,306.3 545.7,301.3 547.3,299.3 550.3,297.2 552.2,294.3 555.6,290.1 558.7,287.8 559.3,284.4 561.7,283.6 564.0,283.6 563.1,280.7 562.4,278.1 560.7,276.5 561.1,274.7 560.1,273.1 560.6,271.5 562.9,272.6 564.3,274.5 570.1,275.2 570.0,277.1 567.8,277.8 568.2,279.9 569.2,280.6 569.7,278.9 570.7,280.2 571.8,283.1 573.0,282.3 572.5,280.5 572.7,277.8 574.5,278.2 575.1,274.2 575.8,272.6 575.4,271.1 577.4,269.2 579.1,268.1 579.4,266.8 576.4,263.7 574.6,264.7 572.8,264.0 570.2,265.8 568.2,268.8 567.0,268.0 568.5,270.4 563.5,270.8 561.3,270.1 560.9,269.2 560.5,267.3 559.1,267.7 559.8,271.6 557.4,271.6 554.6,271.1 550.4,268.8 548.6,269.1 545.2,267.7 540.8,265.3 541.2,263.0 542.1,261.7 539.8,260.6 536.3,258.3 536.9,255.7 534.8,255.4 534.5,250.7 531.6,247.8 530.2,249.1 527.9,250.4 523.8,250.2 524.8,253.8 525.7,254.9 528.4,256.2 526.9,257.2 527.2,259.6 525.3,262.3 524.7,264.8 522.9,267.5 519.6,267.4 518.0,270.0 519.5,271.1 520.9,273.4 522.1,276.8 520.1,277.3 517.4,277.1Z"/>
<path fill="#9dcc8a" d="M540.8,265.3 541.2,263.0 542.1,261.7 544.4,261.4 548.9,264.0 552.0,265.8 554.4,267.7 556.8,267.8 559.1,267.7 559.8,271.6 557.4,271.6 554.6,271.1 550.4,268.8 548.6,269.1 545.2,267.7Z"/>
<path fill="#66a6cd" d="M560.9,269.2 562.4,266.9 564.0,267.1 567.0,268.0 568.5,270.4 563.5,270.8 561.3,270.1Z"/>
<path fill="#66a6cd" d="M564.0,283.6 563.1,280.7 562.4,278.1 560.7,276.5 561.1,274.7 560.1,273.1 560.6,271.5 562.9,272.6 564.3,274.5 570.1,275.2 570.0,277.1 567.8,277.8 568.2,279.9 569.2,280.6 569.7,278.9 570.7,280.2 571.8,283.1 572.1,284.9 571.8,286.5 570.6,284.4 569.9,282.3 567.9,281.5 567.0,283.1 565.5,283.5Z"/>
<path fill="#66a6cd" d="M546.5,314.9 548.6,317.0 549.6,318.3 551.2,321.4 550.6,323.7 548.3,325.0 546.9,324.3 546.5,322.2 546.1,319.1 546.5,317.0Z"/>
<path fill="#66a6cd" d="M589.4,287.4 590.5,287.9 590.3,289.1 592.2,289.6 592.2,292.5 592.9,294.8 594.8,293.0 596.0,293.6 597.7,292.5 599.1,292.7 601.1,295.1 601.6,297.7 603.6,299.5 603.7,301.5 603.2,303.0 600.4,303.0 598.2,303.3 596.9,305.1 598.6,310.1 596.4,307.9 594.0,307.5 593.7,305.5 591.6,305.6 591.7,307.9 591.5,309.7 590.4,313.1 591.1,316.5 592.6,318.3 594.2,321.7 597.0,323.7 597.8,324.2 595.5,325.6 595.0,324.1 593.3,323.0 593.1,323.7 592.1,322.2 590.6,320.1 588.8,320.1 588.6,317.0 589.0,314.4 589.4,313.5 591.0,309.7 589.9,307.6 589.5,304.7 586.9,300.8 587.4,297.4 584.0,292.2 584.9,292.2 584.9,289.1 586.9,288.9 588.0,287.4Z"/>
<path fill="#9dcc8a" d="M589.4,287.4 591.4,284.9 592.2,281.9 593.2,282.0 595.7,285.7 598.2,287.2 599.9,289.3 598.7,290.4 601.7,292.5 603.4,294.6 605.3,296.4 607.7,299.0 608.4,301.1 608.3,302.1 606.1,302.6 603.2,303.0 603.7,301.5 603.6,299.5 601.6,297.7 601.1,295.1 599.1,292.7 597.7,292.5 596.0,293.6 594.8,293.0 592.9,294.8 592.2,292.5 592.2,289.6 590.3,289.1 590.5,287.9Z"/>
<path fill="#f5a223" d="M593.2,282.0 594.8,281.8 597.2,281.8 599.0,281.0 600.0,279.5 603.0,280.7 604.3,283.3 606.9,284.2 604.1,286.2 604.2,287.8 603.0,290.4 602.7,291.4 605.0,294.3 606.6,296.1 609.4,298.5 611.7,302.1 612.9,306.6 613.0,309.7 610.5,312.6 608.3,313.5 607.8,315.7 604.7,317.8 603.5,318.0 603.6,314.7 602.5,313.4 603.8,311.9 605.9,312.0 606.2,310.0 609.0,308.3 608.7,305.3 608.3,302.1 608.4,301.1 607.7,299.0 605.3,296.4 603.4,294.6 601.7,292.5 598.7,290.4 599.9,289.3 598.2,287.2 595.7,285.7Z"/>
<path fill="#f5a223" d="M598.6,310.1 599.3,312.0 600.5,313.1 602.5,313.4 603.8,311.9 605.9,312.0 606.2,310.0 609.0,308.3 608.7,305.3 608.3,302.1 606.1,302.6 603.2,303.0 600.4,303.0 598.2,303.3 596.9,305.1Z"/>
<path fill="#66a6cd" d="M593.1,323.7 593.3,323.0 595.0,324.1 595.5,325.6 597.8,324.2 600.9,328.0 601.1,329.5 601.1,333.2 603.2,336.8 601.4,337.1 598.4,334.8 596.3,332.9 594.8,329.5 593.8,326.1ZM615.6,335.1 617.1,336.1 619.6,334.0 623.2,332.1 625.3,329.0 628.7,326.1 630.0,324.8 631.2,322.2 633.6,323.8 633.7,325.1 634.6,325.2 637.4,326.9 635.3,329.3 633.7,329.6 630.0,329.3 629.0,331.6 627.9,334.0 627.3,336.3 623.3,336.7 621.0,336.8 617.8,338.3 615.7,336.8Z"/>
<path fill="#66a6cd" d="M582.2,326.0 587.3,326.9 589.2,329.3 590.9,331.4 594.3,334.8 596.8,336.1 600.1,338.7 601.5,340.5 602.1,343.1 603.7,345.2 604.6,346.5 607.1,348.3 606.8,351.7 606.3,355.6 605.0,355.6 603.6,355.6 601.6,353.3 598.5,350.9 595.6,346.5 594.2,343.1 591.3,339.8 590.4,336.1 586.8,332.1 584.2,329.5ZM604.8,358.3 607.0,356.0 608.8,356.3 612.0,356.9 612.7,358.1 616.8,358.6 618.0,357.2 619.6,358.0 621.8,358.5 622.0,359.3 625.9,360.9 625.7,363.2 622.5,362.2 617.9,362.0 613.4,360.7 611.1,360.9 607.5,359.8ZM625.9,361.6 628.7,362.4 627.5,363.5ZM629.4,362.4 631.0,362.4 630.4,363.7 629.3,363.5ZM631.2,362.7 636.3,362.2 636.0,363.5 631.1,364.0ZM638.1,362.4 645.3,361.9 645.0,363.2 638.3,363.5ZM636.1,365.3 640.1,366.3 638.6,367.4 636.0,366.1ZM646.2,367.4 648.5,365.0 649.8,364.0 650.1,365.2 648.1,367.1ZM615.6,335.1 614.1,337.9 614.8,340.5 614.6,343.1 616.4,344.4 616.8,348.3 620.3,348.3 623.2,349.1 626.7,349.6 626.8,351.2 630.3,350.9 630.9,347.0 632.1,343.8 633.7,342.3 633.8,340.5 634.9,338.2 637.1,337.9 634.6,335.8 634.8,334.8 633.8,331.9 633.7,329.6 630.0,329.3 629.0,331.6 627.9,334.0 627.3,336.3 623.3,336.7 621.0,336.8 617.8,338.3 615.7,336.8ZM637.7,354.9 638.2,349.6 636.6,347.5 637.9,343.9 639.2,342.3 639.1,339.2 641.3,337.1 644.1,337.9 647.6,338.2 650.6,336.6 651.5,336.3 649.9,339.5 646.4,339.3 641.8,339.3 639.8,340.5 639.7,342.8 643.2,342.7 647.3,343.1 644.8,344.7 642.7,345.5 644.7,348.9 645.9,351.2 645.2,352.5 642.6,352.8 641.7,348.9 640.1,348.1 640.1,352.5 640.0,355.1ZM656.7,335.0 657.9,336.3 659.5,336.8 658.4,339.2 657.7,342.6 657.0,339.2 656.6,337.4ZM657.6,348.9 661.3,347.8 664.2,349.1 662.4,349.9 658.2,349.9ZM653.2,348.9 656.0,348.9 655.7,350.4 653.4,350.2ZM664.6,342.8 668.3,341.5 672.0,342.6 672.8,347.8 675.1,349.1 677.5,346.2 682.1,345.2 687.8,347.3 686.7,364.3 683.5,361.6 680.0,362.4 682.1,358.8 680.5,354.9 676.0,352.5 672.7,350.9 668.8,350.9 667.0,348.1 670.8,347.0 667.1,346.0 664.9,344.2ZM605.4,344.7 607.7,344.7 608.7,348.3 607.1,347.3ZM610.8,347.3 612.4,347.5 612.2,348.9 610.8,348.6ZM671.7,355.6 672.9,354.9 672.7,358.0 671.6,358.0ZM664.0,360.1 665.7,359.3 665.3,361.4 663.9,361.4Z"/>
<path fill="#9dcc8a" d="M636.7,292.2 640.3,292.2 641.0,296.1 640.1,299.0 640.9,303.4 643.0,303.4 646.1,304.5 646.9,307.6 645.0,306.6 642.5,305.0 641.2,304.2 639.0,304.5 638.3,302.9 636.8,301.3 636.2,299.3 635.8,297.9 637.0,297.2 636.7,294.8ZM643.6,322.5 646.1,318.0 649.5,317.0 650.9,314.9 653.3,318.3 653.8,322.2 653.2,324.1 651.8,322.7 651.3,325.9 648.6,324.3 648.0,321.7 646.3,320.9ZM647.4,307.9 649.7,307.9 651.0,311.5 649.5,311.8 648.9,310.5ZM648.0,310.7 649.4,311.3 650.1,313.9 649.2,314.1ZM643.8,314.7 645.1,312.0 646.1,312.3 645.8,316.5 645.1,316.7ZM642.3,309.4 645.0,310.5 644.1,313.1 642.5,313.1ZM646.2,315.7 647.1,311.3 647.3,313.1ZM632.1,318.6 636.7,310.7 637.4,313.1 633.1,319.1ZM638.2,305.3 640.7,305.5 640.4,308.4 639.7,308.4ZM647.0,315.2 648.6,314.1 648.6,315.2Z"/>
<path fill="#9dcc8a" d="M634.9,241.8 637.4,239.7 641.7,243.9 643.0,246.5 643.5,248.3 643.3,248.9 641.3,249.7 638.5,250.8 636.9,247.6 635.9,245.0 635.0,244.7 635.9,243.9 633.7,242.1Z"/>
<path fill="#9dcc8a" d="M619.1,399.5 620.4,397.4 623.9,395.3 627.1,394.3 630.4,393.5 633.9,392.7 637.8,391.4 640.7,387.8 640.9,385.4 644.0,385.9 644.5,382.8 648.0,381.0 650.7,377.6 654.2,377.0 655.7,379.4 658.7,379.4 659.4,376.0 661.9,372.9 663.3,372.3 666.6,372.1 665.2,370.0 668.7,371.3 672.5,372.3 676.0,371.8 676.3,372.9 673.9,375.2 672.2,379.4 675.2,382.0 679.3,384.6 682.3,386.4 684.7,383.3 686.3,379.7 686.7,375.5 687.5,373.1 688.9,369.2 689.7,368.4 691.1,373.4 691.0,377.3 693.2,377.8 694.5,379.7 694.3,383.6 694.6,389.6 697.2,391.1 699.6,393.5 700.3,398.5 702.8,399.5 702.3,402.1 705.4,406.5 705.3,409.7 704.3,415.2 701.4,419.6 697.7,425.1 693.3,428.7 690.1,432.4 686.7,436.0 685.2,438.4 680.9,439.4 677.0,441.5 675.3,442.6 674.4,440.5 672.6,440.5 669.6,441.8 666.1,440.7 664.2,439.4 664.2,436.6 664.8,434.0 662.3,433.4 664.1,431.3 664.5,427.2 662.7,429.8 660.0,432.7 658.5,431.3 657.3,430.6 656.8,426.6 654.2,424.0 651.6,422.7 646.8,423.3 639.8,424.8 634.9,426.6 632.7,429.0 629.5,429.3 624.8,429.0 619.2,432.1 616.3,431.9 613.7,430.0 616.3,426.6 617.6,423.0 617.3,419.9 617.7,417.0 617.3,412.8 616.3,408.9 618.2,409.2 617.4,404.7ZM669.2,446.7 672.4,447.7 676.5,447.0 674.5,450.3 671.7,453.2 668.7,454.3 667.2,453.9 667.8,450.6ZM658.9,433.7 661.2,433.4 662.0,434.1 660.2,434.6 658.5,434.5ZM661.8,370.0 664.3,370.3 663.0,371.6 661.4,371.0Z"/>
<path fill="#9dcc8a" d="M739.1,430.3 739.8,430.3 741.2,432.7 740.0,436.8 742.6,436.0 741.6,438.6 743.5,439.7 746.5,438.9 742.5,442.5 740.1,443.3 738.0,445.9 732.3,449.0 731.4,448.2 734.8,445.4 733.5,443.8 733.4,443.1 736.0,441.8 738.9,438.1 739.3,435.8 738.9,432.9ZM728.9,446.2 728.2,448.2 730.9,448.0 729.5,449.5 723.5,453.4 723.1,454.7 718.3,456.0 713.9,460.1 709.2,462.0 707.2,461.9 704.7,460.7 706.9,458.6 712.3,455.2 718.7,452.6 722.4,450.6 726.9,447.2ZM705.3,462.5 706.4,462.6 705.0,463.5 704.3,463.4Z"/>
<path fill="#66a6cd" d="M722.9,358.0 725.0,359.6 724.3,359.8 722.8,358.5ZM725.2,360.3 730.0,362.7 729.8,363.0 726.0,361.6ZM729.3,364.8 732.0,366.1 731.2,366.5 729.5,365.8ZM731.9,362.4 733.2,365.0 732.7,365.3 731.8,363.2ZM732.9,367.4 735.1,368.4 734.4,368.8 733.1,368.0Z"/>
<path fill="#f5a223" d="M743.3,378.9 744.5,379.7 743.9,381.5 743.1,381.0ZM744.0,382.0 745.2,383.1 744.3,383.8ZM745.3,386.4 746.0,386.7 745.4,387.1Z"/>
</g>
<g>
<rect x="769" y="16" width="65" height="33.3" fill="#002147"/><rect x="769" y="49.2" width="65" height="2.65" fill="#ce261e"/>
<rect x="260.5" y="537" width="48" height="11.5" fill="url(#h)" stroke="#c4c4c4" stroke-width="0.7"/>
<g stroke="#555" stroke-width="0.35">
<rect x="328" y="537" width="87.1" height="11.5" fill="#f5a223"/>
<rect x="415.1" y="537" width="87.1" height="11.5" fill="#9dcc8a"/>
<rect x="502.2" y="537" width="87.1" height="11.5" fill="#66a6cd"/>
</g>
<g stroke="#aaa" stroke-width="0.6"><path d="M284.5,534v3M371.55,534v3M458.65,534v3M545.75,534v3"/></g>
</g>
</svg>
<div id="logo"><div id="lg1">Our World</div><div id="lg2">in Data</div></div>
<div class="t leg" id="lnd">No data</div>
<div class="t leg" id="lbf">Boys favored</div>
<div class="t leg" id="lgp">Gender parity</div>
<div class="t leg" id="lgf">Girls favored</div>
<div class="t foot" id="src"><b>Data source:</b> UNESCO Institute for Statistics (2025)</div>
<div class="t foot" id="url">OurWorldinData.org/global-education | CC BY</div>
</body></html>
